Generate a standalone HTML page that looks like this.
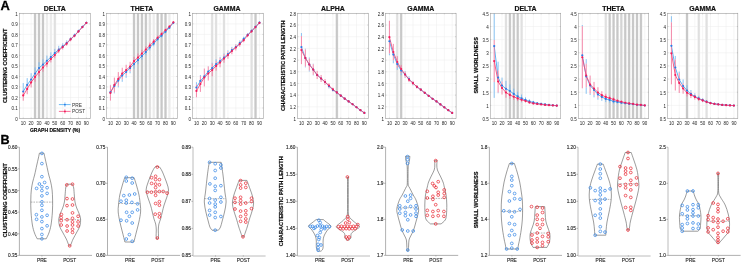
<!DOCTYPE html>
<html><head><meta charset="utf-8"><style>
html,body{margin:0;padding:0;background:#fff;width:741px;height:263px;overflow:hidden}
svg text{font-family:"Liberation Sans", sans-serif}
svg{will-change:transform}
</style></head><body>
<svg width="741" height="263" viewBox="0 0 741 263" style="display:block">
<rect width="741" height="263" fill="#fff"/>
<defs>
<linearGradient id="bard" x1="0" x2="1" y1="0" y2="0"><stop offset="0" stop-color="#ebebeb"/><stop offset="0.3" stop-color="#c8c8c8"/><stop offset="0.7" stop-color="#c8c8c8"/><stop offset="1" stop-color="#ebebeb"/></linearGradient>
<linearGradient id="barm" x1="0" x2="1" y1="0" y2="0"><stop offset="0" stop-color="#efefef"/><stop offset="0.3" stop-color="#d4d4d4"/><stop offset="0.7" stop-color="#d4d4d4"/><stop offset="1" stop-color="#efefef"/></linearGradient>
<linearGradient id="barl" x1="0" x2="1" y1="0" y2="0"><stop offset="0" stop-color="#f4f4f4"/><stop offset="0.3" stop-color="#e0e0e0"/><stop offset="0.7" stop-color="#e0e0e0"/><stop offset="1" stop-color="#f4f4f4"/></linearGradient>
<linearGradient id="barv" x1="0" x2="1" y1="0" y2="0"><stop offset="0" stop-color="#f8f8f8"/><stop offset="0.3" stop-color="#ececec"/><stop offset="0.7" stop-color="#ececec"/><stop offset="1" stop-color="#f8f8f8"/></linearGradient>
</defs>
<clipPath id="c0"><rect x="19.3" y="13.35" width="71" height="105.15"/></clipPath>
<path d="M23.24 13.35V118.5M31.13 13.35V118.5M39.02 13.35V118.5M46.91 13.35V118.5M54.8 13.35V118.5M62.69 13.35V118.5M70.58 13.35V118.5M78.47 13.35V118.5M86.36 13.35V118.5M19.3 118.5H90.3M19.3 107.98H90.3M19.3 97.47H90.3M19.3 86.95H90.3M19.3 76.44H90.3M19.3 65.92H90.3M19.3 55.41H90.3M19.3 44.89H90.3M19.3 34.38H90.3M19.3 23.86H90.3M19.3 13.35H90.3" stroke="#ececec" stroke-width="0.5" fill="none"/>
<rect x="33.63" y="13.35" width="2.9" height="105.15" fill="url(#bard)"/>
<rect x="37.57" y="13.35" width="2.9" height="105.15" fill="url(#bard)"/>
<rect x="41.52" y="13.35" width="2.9" height="105.15" fill="url(#bard)"/>
<rect x="45.46" y="13.35" width="2.9" height="105.15" fill="url(#barv)"/>
<rect x="49.41" y="13.35" width="2.9" height="105.15" fill="url(#barv)"/>
<rect x="53.35" y="13.35" width="2.9" height="105.15" fill="url(#barl)"/>
<path d="M23.24 118.5v-0.9M23.24 13.35v0.9M31.13 118.5v-0.9M31.13 13.35v0.9M39.02 118.5v-0.9M39.02 13.35v0.9M46.91 118.5v-0.9M46.91 13.35v0.9M54.8 118.5v-0.9M54.8 13.35v0.9M62.69 118.5v-0.9M62.69 13.35v0.9M70.58 118.5v-0.9M70.58 13.35v0.9M78.47 118.5v-0.9M78.47 13.35v0.9M86.36 118.5v-0.9M86.36 13.35v0.9M19.3 118.5h0.9M90.3 118.5h-0.9M19.3 107.98h0.9M90.3 107.98h-0.9M19.3 97.47h0.9M90.3 97.47h-0.9M19.3 86.95h0.9M90.3 86.95h-0.9M19.3 76.44h0.9M90.3 76.44h-0.9M19.3 65.92h0.9M90.3 65.92h-0.9M19.3 55.41h0.9M90.3 55.41h-0.9M19.3 44.89h0.9M90.3 44.89h-0.9M19.3 34.38h0.9M90.3 34.38h-0.9M19.3 23.86h0.9M90.3 23.86h-0.9M19.3 13.35h0.9M90.3 13.35h-0.9" stroke="#a2a2a2" stroke-width="0.5" fill="none"/>
<g clip-path="url(#c0)">
<path d="M23.24 83.06V90.21M27.19 78.12V83.7M31.13 73.18V77.39M35.08 67.4V72.23M39.02 62.24V67.61M42.97 59.3V63.3M46.91 55.52V59.83M50.86 52.36V55.73M54.8 48.89V51.94M58.74 45.84V47.94M62.69 49.42V49.63M62.69 43.32V44.79M66.63 40.37V41.53M70.58 37.01V37.53M74.52 33.54V34.17M78.47 32.7V32.8M78.47 29.65V30.17M82.41 25.65V26.07M86.36 23.76V23.86M86.36 21.76V22.08" stroke="#74b8f0" stroke-width="0.85" fill="none"/>
<polyline points="23.24,91.48 27.19,84.96 31.13,79.49 35.08,73.5 39.02,68.03 42.97,64.56 46.91,60.77 50.86,57.09 54.8,53.1 58.74,49.52 62.69,46.47 66.63,43 70.58,39.11 74.52,35.43 78.47,31.23 82.41,26.91 86.36,22.81" stroke="#48aaf0" stroke-width="0.9" fill="none"/>
<path d="M23.24 90.21V100.73M27.19 83.7V94.21M31.13 77.39V87.48M35.08 72.23V81.7M39.02 67.61V76.44M42.97 63.3V71.71M46.91 59.83V67.19M50.86 55.73V62.46M54.8 51.94V58.25M58.74 47.94V53.2M62.69 44.79V49.42M66.63 41.53V45.74M70.58 37.53V41.32M74.52 34.17V37.32M78.47 30.17V32.7M82.41 26.07V28.18M86.36 22.08V23.76" stroke="#f27399" stroke-width="0.85" fill="none"/>
<polyline points="23.24,95.47 27.19,88.95 31.13,82.43 35.08,76.97 39.02,72.02 42.97,67.5 46.91,63.51 50.86,59.09 54.8,55.09 58.74,50.57 62.69,47.1 66.63,43.63 70.58,39.43 74.52,35.75 78.47,31.44 82.41,27.12 86.36,22.92" stroke="#f54b7c" stroke-width="0.9" fill="none"/>
<circle cx="23.24" cy="91.48" r="1.1" fill="#2a7de8"/>
<circle cx="27.19" cy="84.96" r="1.1" fill="#2a7de8"/>
<circle cx="31.13" cy="79.49" r="1.1" fill="#2a7de8"/>
<circle cx="35.08" cy="73.5" r="1.1" fill="#2a7de8"/>
<circle cx="39.02" cy="68.03" r="1.1" fill="#2a7de8"/>
<circle cx="42.97" cy="64.56" r="1.1" fill="#2a7de8"/>
<circle cx="46.91" cy="60.77" r="1.1" fill="#2a7de8"/>
<circle cx="50.86" cy="57.09" r="1.1" fill="#2a7de8"/>
<circle cx="54.8" cy="53.1" r="1.1" fill="#2a7de8"/>
<circle cx="58.74" cy="49.52" r="1.1" fill="#2a7de8"/>
<circle cx="62.69" cy="46.47" r="1.1" fill="#2a7de8"/>
<circle cx="66.63" cy="43" r="1.1" fill="#2a7de8"/>
<circle cx="70.58" cy="39.11" r="1.1" fill="#2a7de8"/>
<circle cx="74.52" cy="35.43" r="1.1" fill="#2a7de8"/>
<circle cx="78.47" cy="31.23" r="1.1" fill="#2a7de8"/>
<circle cx="82.41" cy="26.91" r="1.1" fill="#2a7de8"/>
<circle cx="86.36" cy="22.81" r="1.1" fill="#2a7de8"/>
<circle cx="23.24" cy="95.47" r="1.1" fill="#f41c5a"/>
<circle cx="27.19" cy="88.95" r="1.1" fill="#f41c5a"/>
<circle cx="31.13" cy="82.43" r="1.1" fill="#f41c5a"/>
<circle cx="35.08" cy="76.97" r="1.1" fill="#f41c5a"/>
<circle cx="39.02" cy="72.02" r="1.1" fill="#f41c5a"/>
<circle cx="42.97" cy="67.5" r="1.1" fill="#f41c5a"/>
<circle cx="46.91" cy="63.51" r="1.1" fill="#f41c5a"/>
<circle cx="50.86" cy="59.09" r="1.1" fill="#f41c5a"/>
<circle cx="54.8" cy="55.09" r="1.1" fill="#f41c5a"/>
<circle cx="58.74" cy="50.57" r="1.1" fill="#f41c5a"/>
<circle cx="62.69" cy="47.1" r="1.1" fill="#f41c5a"/>
<circle cx="66.63" cy="43.63" r="1.1" fill="#f41c5a"/>
<circle cx="70.58" cy="39.43" r="1.1" fill="#f41c5a"/>
<circle cx="74.52" cy="35.75" r="1.1" fill="#f41c5a"/>
<circle cx="78.47" cy="31.44" r="1.1" fill="#f41c5a"/>
<circle cx="82.41" cy="27.12" r="1.1" fill="#f41c5a"/>
<circle cx="86.36" cy="22.92" r="1.1" fill="#f41c5a"/>
</g>
<rect x="19.3" y="13.35" width="71" height="105.15" fill="none" stroke="#a2a2a2" stroke-width="0.6"/>
<text x="17.7" y="120.85" text-anchor="end" font-size="4.5" fill="#222">0</text>
<text x="17.7" y="110.33" text-anchor="end" font-size="4.5" fill="#222">0.1</text>
<text x="17.7" y="99.82" text-anchor="end" font-size="4.5" fill="#222">0.2</text>
<text x="17.7" y="89.3" text-anchor="end" font-size="4.5" fill="#222">0.3</text>
<text x="17.7" y="78.79" text-anchor="end" font-size="4.5" fill="#222">0.4</text>
<text x="17.7" y="68.27" text-anchor="end" font-size="4.5" fill="#222">0.5</text>
<text x="17.7" y="57.76" text-anchor="end" font-size="4.5" fill="#222">0.6</text>
<text x="17.7" y="47.24" text-anchor="end" font-size="4.5" fill="#222">0.7</text>
<text x="17.7" y="36.73" text-anchor="end" font-size="4.5" fill="#222">0.8</text>
<text x="17.7" y="26.21" text-anchor="end" font-size="4.5" fill="#222">0.9</text>
<text x="17.7" y="15.7" text-anchor="end" font-size="4.5" fill="#222">1</text>
<text x="23.24" y="125.3" text-anchor="middle" font-size="4.5" fill="#222">10</text>
<text x="31.13" y="125.3" text-anchor="middle" font-size="4.5" fill="#222">20</text>
<text x="39.02" y="125.3" text-anchor="middle" font-size="4.5" fill="#222">30</text>
<text x="46.91" y="125.3" text-anchor="middle" font-size="4.5" fill="#222">40</text>
<text x="54.8" y="125.3" text-anchor="middle" font-size="4.5" fill="#222">50</text>
<text x="62.69" y="125.3" text-anchor="middle" font-size="4.5" fill="#222">60</text>
<text x="70.58" y="125.3" text-anchor="middle" font-size="4.5" fill="#222">70</text>
<text x="78.47" y="125.3" text-anchor="middle" font-size="4.5" fill="#222">80</text>
<text x="86.36" y="125.3" text-anchor="middle" font-size="4.5" fill="#222">90</text>
<text x="54.8" y="11.2" text-anchor="middle" font-size="6.95" font-weight="bold" fill="#111" stroke="#111" stroke-width="0.18">DELTA</text>
<clipPath id="c1"><rect x="106.5" y="13.35" width="70.8" height="105.15"/></clipPath>
<path d="M110.43 13.35V118.5M118.3 13.35V118.5M126.17 13.35V118.5M134.03 13.35V118.5M141.9 13.35V118.5M149.77 13.35V118.5M157.63 13.35V118.5M165.5 13.35V118.5M173.37 13.35V118.5M106.5 118.5H177.3M106.5 107.98H177.3M106.5 97.47H177.3M106.5 86.95H177.3M106.5 76.44H177.3M106.5 65.92H177.3M106.5 55.41H177.3M106.5 44.89H177.3M106.5 34.38H177.3M106.5 23.86H177.3M106.5 13.35H177.3" stroke="#ececec" stroke-width="0.5" fill="none"/>
<rect x="132.58" y="13.35" width="2.9" height="105.15" fill="url(#bard)"/>
<rect x="136.52" y="13.35" width="2.9" height="105.15" fill="url(#bard)"/>
<rect x="140.45" y="13.35" width="2.9" height="105.15" fill="url(#bard)"/>
<rect x="144.38" y="13.35" width="2.9" height="105.15" fill="url(#bard)"/>
<rect x="148.32" y="13.35" width="2.9" height="105.15" fill="url(#barl)"/>
<rect x="152.25" y="13.35" width="2.9" height="105.15" fill="url(#barv)"/>
<rect x="156.18" y="13.35" width="2.9" height="105.15" fill="url(#bard)"/>
<rect x="160.12" y="13.35" width="2.9" height="105.15" fill="url(#bard)"/>
<rect x="164.05" y="13.35" width="2.9" height="105.15" fill="url(#bard)"/>
<rect x="167.98" y="13.35" width="2.9" height="105.15" fill="url(#barv)"/>
<path d="M110.43 118.5v-0.9M110.43 13.35v0.9M118.3 118.5v-0.9M118.3 13.35v0.9M126.17 118.5v-0.9M126.17 13.35v0.9M134.03 118.5v-0.9M134.03 13.35v0.9M141.9 118.5v-0.9M141.9 13.35v0.9M149.77 118.5v-0.9M149.77 13.35v0.9M157.63 118.5v-0.9M157.63 13.35v0.9M165.5 118.5v-0.9M165.5 13.35v0.9M173.37 118.5v-0.9M173.37 13.35v0.9M106.5 118.5h0.9M177.3 118.5h-0.9M106.5 107.98h0.9M177.3 107.98h-0.9M106.5 97.47h0.9M177.3 97.47h-0.9M106.5 86.95h0.9M177.3 86.95h-0.9M106.5 76.44h0.9M177.3 76.44h-0.9M106.5 65.92h0.9M177.3 65.92h-0.9M106.5 55.41h0.9M177.3 55.41h-0.9M106.5 44.89h0.9M177.3 44.89h-0.9M106.5 34.38h0.9M177.3 34.38h-0.9M106.5 23.86h0.9M177.3 23.86h-0.9M106.5 13.35h0.9M177.3 13.35h-0.9" stroke="#a2a2a2" stroke-width="0.5" fill="none"/>
<g clip-path="url(#c1)">
<path d="M110.43 84.85V85.27M114.37 92.32V93.37M118.3 85.8V87.38M122.23 79.28V81.8M126.17 75.28V77.81M130.1 71.29V73.29M134.03 65.29V68.76M137.97 61.51V64.24M141.9 57.2V59.72M145.83 52.68V55.2M149.77 48.47V50.47M153.7 44.26V46.26M157.63 39.85V41.21M161.57 35.96V37.53M165.5 31.75V33.22M169.43 27.86V28.91M173.37 23.34V23.86" stroke="#74b8f0" stroke-width="0.85" fill="none"/>
<polyline points="110.43,92.21 114.37,86.01 118.3,80.54 122.23,75.49 126.17,72.02 130.1,68.03 134.03,64.03 137.97,60.04 141.9,56.04 145.83,52.05 149.77,47.52 153.7,43.63 157.63,39.11 161.57,35.64 165.5,31.65 169.43,27.65 173.37,22.81" stroke="#48aaf0" stroke-width="0.9" fill="none"/>
<path d="M110.43 85.27V100.62M114.37 77.6V92.32M118.3 72.13V85.8M122.23 67.71V79.28M126.17 64.77V75.28M130.1 61.82V71.29M134.03 56.88V65.29M137.97 53.52V61.51M141.9 49.84V57.2M145.83 46.37V52.68M149.77 42.58V48.47M153.7 39.01V44.26M157.63 35.64V39.85M161.57 32.17V35.96M165.5 28.6V31.75M169.43 25.34V27.86M173.37 21.24V23.34" stroke="#f27399" stroke-width="0.85" fill="none"/>
<polyline points="110.43,92.95 114.37,84.96 118.3,78.96 122.23,73.5 126.17,70.03 130.1,66.56 134.03,61.09 137.97,57.51 141.9,53.52 145.83,49.52 149.77,45.53 153.7,41.64 157.63,37.74 161.57,34.06 165.5,30.17 169.43,26.6 173.37,22.29" stroke="#f54b7c" stroke-width="0.9" fill="none"/>
<circle cx="110.43" cy="92.21" r="1.1" fill="#2a7de8"/>
<circle cx="114.37" cy="86.01" r="1.1" fill="#2a7de8"/>
<circle cx="118.3" cy="80.54" r="1.1" fill="#2a7de8"/>
<circle cx="122.23" cy="75.49" r="1.1" fill="#2a7de8"/>
<circle cx="126.17" cy="72.02" r="1.1" fill="#2a7de8"/>
<circle cx="130.1" cy="68.03" r="1.1" fill="#2a7de8"/>
<circle cx="134.03" cy="64.03" r="1.1" fill="#2a7de8"/>
<circle cx="137.97" cy="60.04" r="1.1" fill="#2a7de8"/>
<circle cx="141.9" cy="56.04" r="1.1" fill="#2a7de8"/>
<circle cx="145.83" cy="52.05" r="1.1" fill="#2a7de8"/>
<circle cx="149.77" cy="47.52" r="1.1" fill="#2a7de8"/>
<circle cx="153.7" cy="43.63" r="1.1" fill="#2a7de8"/>
<circle cx="157.63" cy="39.11" r="1.1" fill="#2a7de8"/>
<circle cx="161.57" cy="35.64" r="1.1" fill="#2a7de8"/>
<circle cx="165.5" cy="31.65" r="1.1" fill="#2a7de8"/>
<circle cx="169.43" cy="27.65" r="1.1" fill="#2a7de8"/>
<circle cx="173.37" cy="22.81" r="1.1" fill="#2a7de8"/>
<circle cx="110.43" cy="92.95" r="1.1" fill="#f41c5a"/>
<circle cx="114.37" cy="84.96" r="1.1" fill="#f41c5a"/>
<circle cx="118.3" cy="78.96" r="1.1" fill="#f41c5a"/>
<circle cx="122.23" cy="73.5" r="1.1" fill="#f41c5a"/>
<circle cx="126.17" cy="70.03" r="1.1" fill="#f41c5a"/>
<circle cx="130.1" cy="66.56" r="1.1" fill="#f41c5a"/>
<circle cx="134.03" cy="61.09" r="1.1" fill="#f41c5a"/>
<circle cx="137.97" cy="57.51" r="1.1" fill="#f41c5a"/>
<circle cx="141.9" cy="53.52" r="1.1" fill="#f41c5a"/>
<circle cx="145.83" cy="49.52" r="1.1" fill="#f41c5a"/>
<circle cx="149.77" cy="45.53" r="1.1" fill="#f41c5a"/>
<circle cx="153.7" cy="41.64" r="1.1" fill="#f41c5a"/>
<circle cx="157.63" cy="37.74" r="1.1" fill="#f41c5a"/>
<circle cx="161.57" cy="34.06" r="1.1" fill="#f41c5a"/>
<circle cx="165.5" cy="30.17" r="1.1" fill="#f41c5a"/>
<circle cx="169.43" cy="26.6" r="1.1" fill="#f41c5a"/>
<circle cx="173.37" cy="22.29" r="1.1" fill="#f41c5a"/>
</g>
<rect x="106.5" y="13.35" width="70.8" height="105.15" fill="none" stroke="#a2a2a2" stroke-width="0.6"/>
<text x="104.9" y="120.85" text-anchor="end" font-size="4.5" fill="#222">0</text>
<text x="104.9" y="110.33" text-anchor="end" font-size="4.5" fill="#222">0.1</text>
<text x="104.9" y="99.82" text-anchor="end" font-size="4.5" fill="#222">0.2</text>
<text x="104.9" y="89.3" text-anchor="end" font-size="4.5" fill="#222">0.3</text>
<text x="104.9" y="78.79" text-anchor="end" font-size="4.5" fill="#222">0.4</text>
<text x="104.9" y="68.27" text-anchor="end" font-size="4.5" fill="#222">0.5</text>
<text x="104.9" y="57.76" text-anchor="end" font-size="4.5" fill="#222">0.6</text>
<text x="104.9" y="47.24" text-anchor="end" font-size="4.5" fill="#222">0.7</text>
<text x="104.9" y="36.73" text-anchor="end" font-size="4.5" fill="#222">0.8</text>
<text x="104.9" y="26.21" text-anchor="end" font-size="4.5" fill="#222">0.9</text>
<text x="104.9" y="15.7" text-anchor="end" font-size="4.5" fill="#222">1</text>
<text x="110.43" y="125.3" text-anchor="middle" font-size="4.5" fill="#222">10</text>
<text x="118.3" y="125.3" text-anchor="middle" font-size="4.5" fill="#222">20</text>
<text x="126.17" y="125.3" text-anchor="middle" font-size="4.5" fill="#222">30</text>
<text x="134.03" y="125.3" text-anchor="middle" font-size="4.5" fill="#222">40</text>
<text x="141.9" y="125.3" text-anchor="middle" font-size="4.5" fill="#222">50</text>
<text x="149.77" y="125.3" text-anchor="middle" font-size="4.5" fill="#222">60</text>
<text x="157.63" y="125.3" text-anchor="middle" font-size="4.5" fill="#222">70</text>
<text x="165.5" y="125.3" text-anchor="middle" font-size="4.5" fill="#222">80</text>
<text x="173.37" y="125.3" text-anchor="middle" font-size="4.5" fill="#222">90</text>
<text x="141.9" y="11.2" text-anchor="middle" font-size="6.95" font-weight="bold" fill="#111" stroke="#111" stroke-width="0.18">THETA</text>
<clipPath id="c2"><rect x="192.5" y="13.35" width="70.9" height="105.15"/></clipPath>
<path d="M196.44 13.35V118.5M204.32 13.35V118.5M212.19 13.35V118.5M220.07 13.35V118.5M227.95 13.35V118.5M235.83 13.35V118.5M243.71 13.35V118.5M251.58 13.35V118.5M259.46 13.35V118.5M192.5 118.5H263.4M192.5 107.98H263.4M192.5 97.47H263.4M192.5 86.95H263.4M192.5 76.44H263.4M192.5 65.92H263.4M192.5 55.41H263.4M192.5 44.89H263.4M192.5 34.38H263.4M192.5 23.86H263.4M192.5 13.35H263.4" stroke="#ececec" stroke-width="0.5" fill="none"/>
<rect x="210.74" y="13.35" width="2.9" height="105.15" fill="url(#barl)"/>
<rect x="214.68" y="13.35" width="2.9" height="105.15" fill="url(#barl)"/>
<rect x="222.56" y="13.35" width="2.9" height="105.15" fill="url(#barl)"/>
<rect x="250.13" y="13.35" width="2.9" height="105.15" fill="url(#barl)"/>
<rect x="254.07" y="13.35" width="2.9" height="105.15" fill="url(#bard)"/>
<path d="M196.44 118.5v-0.9M196.44 13.35v0.9M204.32 118.5v-0.9M204.32 13.35v0.9M212.19 118.5v-0.9M212.19 13.35v0.9M220.07 118.5v-0.9M220.07 13.35v0.9M227.95 118.5v-0.9M227.95 13.35v0.9M235.83 118.5v-0.9M235.83 13.35v0.9M243.71 118.5v-0.9M243.71 13.35v0.9M251.58 118.5v-0.9M251.58 13.35v0.9M259.46 118.5v-0.9M259.46 13.35v0.9M192.5 118.5h0.9M263.4 118.5h-0.9M192.5 107.98h0.9M263.4 107.98h-0.9M192.5 97.47h0.9M263.4 97.47h-0.9M192.5 86.95h0.9M263.4 86.95h-0.9M192.5 76.44h0.9M263.4 76.44h-0.9M192.5 65.92h0.9M263.4 65.92h-0.9M192.5 55.41h0.9M263.4 55.41h-0.9M192.5 44.89h0.9M263.4 44.89h-0.9M192.5 34.38h0.9M263.4 34.38h-0.9M192.5 23.86h0.9M263.4 23.86h-0.9M192.5 13.35h0.9M263.4 13.35h-0.9" stroke="#a2a2a2" stroke-width="0.5" fill="none"/>
<g clip-path="url(#c2)">
<path d="M196.44 82.22V84.64M200.38 74.97V76.12M208.26 66.24V66.45M212.19 62.77V63.72M216.13 59.3V61.19M220.07 56.88V57.83M224.01 53.52V54.36M227.95 50.36V51.41M231.89 46.89V47.94M235.83 44.05V44.58M239.77 40.48V41.43M243.71 36.69V38.06M247.64 33.01V33.43M251.58 29.33V29.75M255.52 25.55V25.86M259.46 21.55V21.87" stroke="#74b8f0" stroke-width="0.85" fill="none"/>
<polyline points="196.44,87.48 200.38,80.96 204.32,76.44 208.26,71.5 212.19,68.03 216.13,64.03 220.07,61.09 224.01,57.51 227.95,54.04 231.89,50.05 235.83,47 239.77,43.11 243.71,38.8 247.64,34.91 251.58,30.91 255.52,26.81 259.46,22.6" stroke="#48aaf0" stroke-width="0.9" fill="none"/>
<path d="M196.44 84.64V97.26M200.38 76.12V91.9M204.32 68.55V86.43M208.26 66.45V80.54M212.19 63.72V76.33M216.13 61.19V70.66M220.07 57.83V67.29M224.01 54.36V62.77M227.95 51.41V58.77M231.89 47.94V54.25M235.83 44.58V50.47M239.77 41.43V46.68M243.71 38.06V42.27M247.64 33.43V37.22M251.58 29.75V32.91M255.52 25.86V28.39M259.46 21.87V23.97" stroke="#f27399" stroke-width="0.85" fill="none"/>
<polyline points="196.44,90.95 200.38,84.01 204.32,77.49 208.26,73.5 212.19,70.03 216.13,65.92 220.07,62.56 224.01,58.56 227.95,55.09 231.89,51.1 235.83,47.52 239.77,44.05 243.71,40.16 247.64,35.33 251.58,31.33 255.52,27.12 259.46,22.92" stroke="#f54b7c" stroke-width="0.9" fill="none"/>
<circle cx="196.44" cy="87.48" r="1.1" fill="#2a7de8"/>
<circle cx="200.38" cy="80.96" r="1.1" fill="#2a7de8"/>
<circle cx="204.32" cy="76.44" r="1.1" fill="#2a7de8"/>
<circle cx="208.26" cy="71.5" r="1.1" fill="#2a7de8"/>
<circle cx="212.19" cy="68.03" r="1.1" fill="#2a7de8"/>
<circle cx="216.13" cy="64.03" r="1.1" fill="#2a7de8"/>
<circle cx="220.07" cy="61.09" r="1.1" fill="#2a7de8"/>
<circle cx="224.01" cy="57.51" r="1.1" fill="#2a7de8"/>
<circle cx="227.95" cy="54.04" r="1.1" fill="#2a7de8"/>
<circle cx="231.89" cy="50.05" r="1.1" fill="#2a7de8"/>
<circle cx="235.83" cy="47" r="1.1" fill="#2a7de8"/>
<circle cx="239.77" cy="43.11" r="1.1" fill="#2a7de8"/>
<circle cx="243.71" cy="38.8" r="1.1" fill="#2a7de8"/>
<circle cx="247.64" cy="34.91" r="1.1" fill="#2a7de8"/>
<circle cx="251.58" cy="30.91" r="1.1" fill="#2a7de8"/>
<circle cx="255.52" cy="26.81" r="1.1" fill="#2a7de8"/>
<circle cx="259.46" cy="22.6" r="1.1" fill="#2a7de8"/>
<circle cx="196.44" cy="90.95" r="1.1" fill="#f41c5a"/>
<circle cx="200.38" cy="84.01" r="1.1" fill="#f41c5a"/>
<circle cx="204.32" cy="77.49" r="1.1" fill="#f41c5a"/>
<circle cx="208.26" cy="73.5" r="1.1" fill="#f41c5a"/>
<circle cx="212.19" cy="70.03" r="1.1" fill="#f41c5a"/>
<circle cx="216.13" cy="65.92" r="1.1" fill="#f41c5a"/>
<circle cx="220.07" cy="62.56" r="1.1" fill="#f41c5a"/>
<circle cx="224.01" cy="58.56" r="1.1" fill="#f41c5a"/>
<circle cx="227.95" cy="55.09" r="1.1" fill="#f41c5a"/>
<circle cx="231.89" cy="51.1" r="1.1" fill="#f41c5a"/>
<circle cx="235.83" cy="47.52" r="1.1" fill="#f41c5a"/>
<circle cx="239.77" cy="44.05" r="1.1" fill="#f41c5a"/>
<circle cx="243.71" cy="40.16" r="1.1" fill="#f41c5a"/>
<circle cx="247.64" cy="35.33" r="1.1" fill="#f41c5a"/>
<circle cx="251.58" cy="31.33" r="1.1" fill="#f41c5a"/>
<circle cx="255.52" cy="27.12" r="1.1" fill="#f41c5a"/>
<circle cx="259.46" cy="22.92" r="1.1" fill="#f41c5a"/>
</g>
<rect x="192.5" y="13.35" width="70.9" height="105.15" fill="none" stroke="#a2a2a2" stroke-width="0.6"/>
<text x="190.9" y="120.85" text-anchor="end" font-size="4.5" fill="#222">0</text>
<text x="190.9" y="110.33" text-anchor="end" font-size="4.5" fill="#222">0.1</text>
<text x="190.9" y="99.82" text-anchor="end" font-size="4.5" fill="#222">0.2</text>
<text x="190.9" y="89.3" text-anchor="end" font-size="4.5" fill="#222">0.3</text>
<text x="190.9" y="78.79" text-anchor="end" font-size="4.5" fill="#222">0.4</text>
<text x="190.9" y="68.27" text-anchor="end" font-size="4.5" fill="#222">0.5</text>
<text x="190.9" y="57.76" text-anchor="end" font-size="4.5" fill="#222">0.6</text>
<text x="190.9" y="47.24" text-anchor="end" font-size="4.5" fill="#222">0.7</text>
<text x="190.9" y="36.73" text-anchor="end" font-size="4.5" fill="#222">0.8</text>
<text x="190.9" y="26.21" text-anchor="end" font-size="4.5" fill="#222">0.9</text>
<text x="190.9" y="15.7" text-anchor="end" font-size="4.5" fill="#222">1</text>
<text x="196.44" y="125.3" text-anchor="middle" font-size="4.5" fill="#222">10</text>
<text x="204.32" y="125.3" text-anchor="middle" font-size="4.5" fill="#222">20</text>
<text x="212.19" y="125.3" text-anchor="middle" font-size="4.5" fill="#222">30</text>
<text x="220.07" y="125.3" text-anchor="middle" font-size="4.5" fill="#222">40</text>
<text x="227.95" y="125.3" text-anchor="middle" font-size="4.5" fill="#222">50</text>
<text x="235.83" y="125.3" text-anchor="middle" font-size="4.5" fill="#222">60</text>
<text x="243.71" y="125.3" text-anchor="middle" font-size="4.5" fill="#222">70</text>
<text x="251.58" y="125.3" text-anchor="middle" font-size="4.5" fill="#222">80</text>
<text x="259.46" y="125.3" text-anchor="middle" font-size="4.5" fill="#222">90</text>
<text x="226.95" y="11.2" text-anchor="middle" font-size="6.95" font-weight="bold" fill="#111" stroke="#111" stroke-width="0.18">GAMMA</text>
<clipPath id="c3"><rect x="297.5" y="13.35" width="70.8" height="105.15"/></clipPath>
<path d="M301.43 13.35V118.5M309.3 13.35V118.5M317.17 13.35V118.5M325.03 13.35V118.5M332.9 13.35V118.5M340.77 13.35V118.5M348.63 13.35V118.5M356.5 13.35V118.5M364.37 13.35V118.5M297.5 118.5H368.3M297.5 106.82H368.3M297.5 95.13H368.3M297.5 83.45H368.3M297.5 71.77H368.3M297.5 60.08H368.3M297.5 48.4H368.3M297.5 36.72H368.3M297.5 25.03H368.3M297.5 13.35H368.3" stroke="#ececec" stroke-width="0.5" fill="none"/>
<rect x="335.38" y="13.35" width="2.9" height="105.15" fill="url(#bard)"/>
<path d="M301.43 118.5v-0.9M301.43 13.35v0.9M309.3 118.5v-0.9M309.3 13.35v0.9M317.17 118.5v-0.9M317.17 13.35v0.9M325.03 118.5v-0.9M325.03 13.35v0.9M332.9 118.5v-0.9M332.9 13.35v0.9M340.77 118.5v-0.9M340.77 13.35v0.9M348.63 118.5v-0.9M348.63 13.35v0.9M356.5 118.5v-0.9M356.5 13.35v0.9M364.37 118.5v-0.9M364.37 13.35v0.9M297.5 118.5h0.9M368.3 118.5h-0.9M297.5 106.82h0.9M368.3 106.82h-0.9M297.5 95.13h0.9M368.3 95.13h-0.9M297.5 83.45h0.9M368.3 83.45h-0.9M297.5 71.77h0.9M368.3 71.77h-0.9M297.5 60.08h0.9M368.3 60.08h-0.9M297.5 48.4h0.9M368.3 48.4h-0.9M297.5 36.72h0.9M368.3 36.72h-0.9M297.5 25.03h0.9M368.3 25.03h-0.9M297.5 13.35h0.9M368.3 13.35h-0.9" stroke="#a2a2a2" stroke-width="0.5" fill="none"/>
<g clip-path="url(#c3)">
<path d="M301.43 33.04V36.07M305.37 66.51V67.39M305.37 48.69V49.57M309.3 70.36V71.53M309.3 57.51V58.68M313.23 74.8V75.39M313.23 63.71V64.29M328.97 87.83V88.53M332.9 91.22V91.63" stroke="#74b8f0" stroke-width="0.85" fill="none"/>
<polyline points="301.43,47.06 305.37,58.04 309.3,64.52 313.23,69.55 317.17,74.98 321.1,78.48 325.03,81.99 328.97,86.2 332.9,89.88 336.83,92.45 340.77,95.66 344.7,98.64 348.63,101.44 352.57,104.25 356.5,107.23 360.43,110.15 364.37,112.89" stroke="#48aaf0" stroke-width="0.9" fill="none"/>
<path d="M301.43 36.07V64.11M305.37 49.57V66.51M309.3 58.68V70.36M313.23 64.29V74.8M317.17 70.89V79.07M321.1 74.98V81.99M325.03 79.07V84.91M328.97 83.16V87.83M332.9 87.71V91.22M336.83 90.99V93.91M340.77 94.49V96.83M344.7 97.76V99.51M348.63 100.74V102.14M352.57 103.66V104.83M356.5 106.76V107.69M360.43 109.8V110.5M364.37 112.6V113.18" stroke="#f27399" stroke-width="0.85" fill="none"/>
<polyline points="301.43,50.09 305.37,58.04 309.3,64.52 313.23,69.55 317.17,74.98 321.1,78.48 325.03,81.99 328.97,85.49 332.9,89.47 336.83,92.45 340.77,95.66 344.7,98.64 348.63,101.44 352.57,104.25 356.5,107.23 360.43,110.15 364.37,112.89" stroke="#f54b7c" stroke-width="0.9" fill="none"/>
<circle cx="301.43" cy="47.06" r="1.1" fill="#2a7de8"/>
<circle cx="305.37" cy="58.04" r="1.1" fill="#2a7de8"/>
<circle cx="309.3" cy="64.52" r="1.1" fill="#2a7de8"/>
<circle cx="313.23" cy="69.55" r="1.1" fill="#2a7de8"/>
<circle cx="317.17" cy="74.98" r="1.1" fill="#2a7de8"/>
<circle cx="321.1" cy="78.48" r="1.1" fill="#2a7de8"/>
<circle cx="325.03" cy="81.99" r="1.1" fill="#2a7de8"/>
<circle cx="328.97" cy="86.2" r="1.1" fill="#2a7de8"/>
<circle cx="332.9" cy="89.88" r="1.1" fill="#2a7de8"/>
<circle cx="336.83" cy="92.45" r="1.1" fill="#2a7de8"/>
<circle cx="340.77" cy="95.66" r="1.1" fill="#2a7de8"/>
<circle cx="344.7" cy="98.64" r="1.1" fill="#2a7de8"/>
<circle cx="348.63" cy="101.44" r="1.1" fill="#2a7de8"/>
<circle cx="352.57" cy="104.25" r="1.1" fill="#2a7de8"/>
<circle cx="356.5" cy="107.23" r="1.1" fill="#2a7de8"/>
<circle cx="360.43" cy="110.15" r="1.1" fill="#2a7de8"/>
<circle cx="364.37" cy="112.89" r="1.1" fill="#2a7de8"/>
<circle cx="301.43" cy="50.09" r="1.1" fill="#f41c5a"/>
<circle cx="305.37" cy="58.04" r="1.1" fill="#f41c5a"/>
<circle cx="309.3" cy="64.52" r="1.1" fill="#f41c5a"/>
<circle cx="313.23" cy="69.55" r="1.1" fill="#f41c5a"/>
<circle cx="317.17" cy="74.98" r="1.1" fill="#f41c5a"/>
<circle cx="321.1" cy="78.48" r="1.1" fill="#f41c5a"/>
<circle cx="325.03" cy="81.99" r="1.1" fill="#f41c5a"/>
<circle cx="328.97" cy="85.49" r="1.1" fill="#f41c5a"/>
<circle cx="332.9" cy="89.47" r="1.1" fill="#f41c5a"/>
<circle cx="336.83" cy="92.45" r="1.1" fill="#f41c5a"/>
<circle cx="340.77" cy="95.66" r="1.1" fill="#f41c5a"/>
<circle cx="344.7" cy="98.64" r="1.1" fill="#f41c5a"/>
<circle cx="348.63" cy="101.44" r="1.1" fill="#f41c5a"/>
<circle cx="352.57" cy="104.25" r="1.1" fill="#f41c5a"/>
<circle cx="356.5" cy="107.23" r="1.1" fill="#f41c5a"/>
<circle cx="360.43" cy="110.15" r="1.1" fill="#f41c5a"/>
<circle cx="364.37" cy="112.89" r="1.1" fill="#f41c5a"/>
</g>
<rect x="297.5" y="13.35" width="70.8" height="105.15" fill="none" stroke="#a2a2a2" stroke-width="0.6"/>
<text x="295.9" y="120.85" text-anchor="end" font-size="4.5" fill="#222">1</text>
<text x="295.9" y="109.17" text-anchor="end" font-size="4.5" fill="#222">1.2</text>
<text x="295.9" y="97.48" text-anchor="end" font-size="4.5" fill="#222">1.4</text>
<text x="295.9" y="85.8" text-anchor="end" font-size="4.5" fill="#222">1.6</text>
<text x="295.9" y="74.12" text-anchor="end" font-size="4.5" fill="#222">1.8</text>
<text x="295.9" y="62.43" text-anchor="end" font-size="4.5" fill="#222">2</text>
<text x="295.9" y="50.75" text-anchor="end" font-size="4.5" fill="#222">2.2</text>
<text x="295.9" y="39.07" text-anchor="end" font-size="4.5" fill="#222">2.4</text>
<text x="295.9" y="27.38" text-anchor="end" font-size="4.5" fill="#222">2.6</text>
<text x="295.9" y="15.7" text-anchor="end" font-size="4.5" fill="#222">2.8</text>
<text x="301.43" y="125.3" text-anchor="middle" font-size="4.5" fill="#222">10</text>
<text x="309.3" y="125.3" text-anchor="middle" font-size="4.5" fill="#222">20</text>
<text x="317.17" y="125.3" text-anchor="middle" font-size="4.5" fill="#222">30</text>
<text x="325.03" y="125.3" text-anchor="middle" font-size="4.5" fill="#222">40</text>
<text x="332.9" y="125.3" text-anchor="middle" font-size="4.5" fill="#222">50</text>
<text x="340.77" y="125.3" text-anchor="middle" font-size="4.5" fill="#222">60</text>
<text x="348.63" y="125.3" text-anchor="middle" font-size="4.5" fill="#222">70</text>
<text x="356.5" y="125.3" text-anchor="middle" font-size="4.5" fill="#222">80</text>
<text x="364.37" y="125.3" text-anchor="middle" font-size="4.5" fill="#222">90</text>
<text x="332.9" y="11.2" text-anchor="middle" font-size="6.95" font-weight="bold" fill="#111" stroke="#111" stroke-width="0.18">ALPHA</text>
<clipPath id="c4"><rect x="385.5" y="13.35" width="70.6" height="105.15"/></clipPath>
<path d="M389.42 13.35V118.5M397.27 13.35V118.5M405.11 13.35V118.5M412.96 13.35V118.5M420.8 13.35V118.5M428.64 13.35V118.5M436.49 13.35V118.5M444.33 13.35V118.5M452.18 13.35V118.5M385.5 118.5H456.1M385.5 106.82H456.1M385.5 95.13H456.1M385.5 83.45H456.1M385.5 71.77H456.1M385.5 60.08H456.1M385.5 48.4H456.1M385.5 36.72H456.1M385.5 25.03H456.1M385.5 13.35H456.1" stroke="#ececec" stroke-width="0.5" fill="none"/>
<rect x="395.82" y="13.35" width="2.9" height="105.15" fill="url(#barl)"/>
<rect x="399.74" y="13.35" width="2.9" height="105.15" fill="url(#bard)"/>
<path d="M389.42 118.5v-0.9M389.42 13.35v0.9M397.27 118.5v-0.9M397.27 13.35v0.9M405.11 118.5v-0.9M405.11 13.35v0.9M412.96 118.5v-0.9M412.96 13.35v0.9M420.8 118.5v-0.9M420.8 13.35v0.9M428.64 118.5v-0.9M428.64 13.35v0.9M436.49 118.5v-0.9M436.49 13.35v0.9M444.33 118.5v-0.9M444.33 13.35v0.9M452.18 118.5v-0.9M452.18 13.35v0.9M385.5 118.5h0.9M456.1 118.5h-0.9M385.5 106.82h0.9M456.1 106.82h-0.9M385.5 95.13h0.9M456.1 95.13h-0.9M385.5 83.45h0.9M456.1 83.45h-0.9M385.5 71.77h0.9M456.1 71.77h-0.9M385.5 60.08h0.9M456.1 60.08h-0.9M385.5 48.4h0.9M456.1 48.4h-0.9M385.5 36.72h0.9M456.1 36.72h-0.9M385.5 25.03h0.9M456.1 25.03h-0.9M385.5 13.35h0.9M456.1 13.35h-0.9" stroke="#a2a2a2" stroke-width="0.5" fill="none"/>
<g clip-path="url(#c4)">
<path d="M389.42 53.48V55.29M393.34 60.26V63.3M397.27 67.85V69.9M401.19 73.11V75.21M405.11 77.43V78.02M405.11 71.01V71.59M409.03 81.99V82.11M409.03 76.26V77.32M412.96 85.2V85.49M412.96 80.82V81.11" stroke="#74b8f0" stroke-width="0.85" fill="none"/>
<polyline points="389.42,41.27 393.34,54.53 397.27,64.06 401.19,70.54 405.11,74.51 409.03,79.19 412.96,83.16 416.88,86.78 420.8,89.7 424.72,92.8 428.64,95.78 432.57,98.76 436.49,101.44 440.41,104.42 444.33,107.34 448.26,110.15 452.18,112.89" stroke="#48aaf0" stroke-width="0.9" fill="none"/>
<path d="M389.42 20.77V53.48M393.34 43.9V60.26M397.27 56.17V67.85M401.19 64.93V73.11M405.11 71.59V77.43M409.03 77.32V81.99M412.96 81.11V85.2M416.88 85.03V88.53M420.8 88.24V91.16M424.72 91.63V93.97M428.64 94.9V96.65M432.57 98.05V99.46M436.49 100.86V102.03M440.41 103.95V104.89M444.33 106.99V107.69M448.26 109.85V110.44M452.18 112.66V113.13" stroke="#f27399" stroke-width="0.85" fill="none"/>
<polyline points="389.42,37.13 393.34,52.08 397.27,62.01 401.19,69.02 405.11,74.51 409.03,79.65 412.96,83.16 416.88,86.78 420.8,89.7 424.72,92.8 428.64,95.78 432.57,98.76 436.49,101.44 440.41,104.42 444.33,107.34 448.26,110.15 452.18,112.89" stroke="#f54b7c" stroke-width="0.9" fill="none"/>
<circle cx="389.42" cy="41.27" r="1.1" fill="#2a7de8"/>
<circle cx="393.34" cy="54.53" r="1.1" fill="#2a7de8"/>
<circle cx="397.27" cy="64.06" r="1.1" fill="#2a7de8"/>
<circle cx="401.19" cy="70.54" r="1.1" fill="#2a7de8"/>
<circle cx="405.11" cy="74.51" r="1.1" fill="#2a7de8"/>
<circle cx="409.03" cy="79.19" r="1.1" fill="#2a7de8"/>
<circle cx="412.96" cy="83.16" r="1.1" fill="#2a7de8"/>
<circle cx="416.88" cy="86.78" r="1.1" fill="#2a7de8"/>
<circle cx="420.8" cy="89.7" r="1.1" fill="#2a7de8"/>
<circle cx="424.72" cy="92.8" r="1.1" fill="#2a7de8"/>
<circle cx="428.64" cy="95.78" r="1.1" fill="#2a7de8"/>
<circle cx="432.57" cy="98.76" r="1.1" fill="#2a7de8"/>
<circle cx="436.49" cy="101.44" r="1.1" fill="#2a7de8"/>
<circle cx="440.41" cy="104.42" r="1.1" fill="#2a7de8"/>
<circle cx="444.33" cy="107.34" r="1.1" fill="#2a7de8"/>
<circle cx="448.26" cy="110.15" r="1.1" fill="#2a7de8"/>
<circle cx="452.18" cy="112.89" r="1.1" fill="#2a7de8"/>
<circle cx="389.42" cy="37.13" r="1.1" fill="#f41c5a"/>
<circle cx="393.34" cy="52.08" r="1.1" fill="#f41c5a"/>
<circle cx="397.27" cy="62.01" r="1.1" fill="#f41c5a"/>
<circle cx="401.19" cy="69.02" r="1.1" fill="#f41c5a"/>
<circle cx="405.11" cy="74.51" r="1.1" fill="#f41c5a"/>
<circle cx="409.03" cy="79.65" r="1.1" fill="#f41c5a"/>
<circle cx="412.96" cy="83.16" r="1.1" fill="#f41c5a"/>
<circle cx="416.88" cy="86.78" r="1.1" fill="#f41c5a"/>
<circle cx="420.8" cy="89.7" r="1.1" fill="#f41c5a"/>
<circle cx="424.72" cy="92.8" r="1.1" fill="#f41c5a"/>
<circle cx="428.64" cy="95.78" r="1.1" fill="#f41c5a"/>
<circle cx="432.57" cy="98.76" r="1.1" fill="#f41c5a"/>
<circle cx="436.49" cy="101.44" r="1.1" fill="#f41c5a"/>
<circle cx="440.41" cy="104.42" r="1.1" fill="#f41c5a"/>
<circle cx="444.33" cy="107.34" r="1.1" fill="#f41c5a"/>
<circle cx="448.26" cy="110.15" r="1.1" fill="#f41c5a"/>
<circle cx="452.18" cy="112.89" r="1.1" fill="#f41c5a"/>
</g>
<rect x="385.5" y="13.35" width="70.6" height="105.15" fill="none" stroke="#a2a2a2" stroke-width="0.6"/>
<text x="383.9" y="120.85" text-anchor="end" font-size="4.5" fill="#222">1</text>
<text x="383.9" y="109.17" text-anchor="end" font-size="4.5" fill="#222">1.2</text>
<text x="383.9" y="97.48" text-anchor="end" font-size="4.5" fill="#222">1.4</text>
<text x="383.9" y="85.8" text-anchor="end" font-size="4.5" fill="#222">1.6</text>
<text x="383.9" y="74.12" text-anchor="end" font-size="4.5" fill="#222">1.8</text>
<text x="383.9" y="62.43" text-anchor="end" font-size="4.5" fill="#222">2</text>
<text x="383.9" y="50.75" text-anchor="end" font-size="4.5" fill="#222">2.2</text>
<text x="383.9" y="39.07" text-anchor="end" font-size="4.5" fill="#222">2.4</text>
<text x="383.9" y="27.38" text-anchor="end" font-size="4.5" fill="#222">2.6</text>
<text x="383.9" y="15.7" text-anchor="end" font-size="4.5" fill="#222">2.8</text>
<text x="389.42" y="125.3" text-anchor="middle" font-size="4.5" fill="#222">10</text>
<text x="397.27" y="125.3" text-anchor="middle" font-size="4.5" fill="#222">20</text>
<text x="405.11" y="125.3" text-anchor="middle" font-size="4.5" fill="#222">30</text>
<text x="412.96" y="125.3" text-anchor="middle" font-size="4.5" fill="#222">40</text>
<text x="420.8" y="125.3" text-anchor="middle" font-size="4.5" fill="#222">50</text>
<text x="428.64" y="125.3" text-anchor="middle" font-size="4.5" fill="#222">60</text>
<text x="436.49" y="125.3" text-anchor="middle" font-size="4.5" fill="#222">70</text>
<text x="444.33" y="125.3" text-anchor="middle" font-size="4.5" fill="#222">80</text>
<text x="452.18" y="125.3" text-anchor="middle" font-size="4.5" fill="#222">90</text>
<text x="420.8" y="11.2" text-anchor="middle" font-size="6.95" font-weight="bold" fill="#111" stroke="#111" stroke-width="0.18">GAMMA</text>
<clipPath id="c5"><rect x="490.3" y="13.35" width="70.4" height="105.15"/></clipPath>
<path d="M494.21 13.35V118.5M502.03 13.35V118.5M509.86 13.35V118.5M517.68 13.35V118.5M525.5 13.35V118.5M533.32 13.35V118.5M541.14 13.35V118.5M548.97 13.35V118.5M556.79 13.35V118.5M490.3 118.5H560.7M490.3 105.36H560.7M490.3 92.21H560.7M490.3 79.07H560.7M490.3 65.92H560.7M490.3 52.78H560.7M490.3 39.64H560.7M490.3 26.49H560.7M490.3 13.35H560.7" stroke="#ececec" stroke-width="0.5" fill="none"/>
<rect x="504.49" y="13.35" width="2.9" height="105.15" fill="url(#barl)"/>
<rect x="508.41" y="13.35" width="2.9" height="105.15" fill="url(#bard)"/>
<rect x="512.32" y="13.35" width="2.9" height="105.15" fill="url(#bard)"/>
<rect x="516.23" y="13.35" width="2.9" height="105.15" fill="url(#bard)"/>
<rect x="520.14" y="13.35" width="2.9" height="105.15" fill="url(#barl)"/>
<path d="M494.21 118.5v-0.9M494.21 13.35v0.9M502.03 118.5v-0.9M502.03 13.35v0.9M509.86 118.5v-0.9M509.86 13.35v0.9M517.68 118.5v-0.9M517.68 13.35v0.9M525.5 118.5v-0.9M525.5 13.35v0.9M533.32 118.5v-0.9M533.32 13.35v0.9M541.14 118.5v-0.9M541.14 13.35v0.9M548.97 118.5v-0.9M548.97 13.35v0.9M556.79 118.5v-0.9M556.79 13.35v0.9M490.3 118.5h0.9M560.7 118.5h-0.9M490.3 105.36h0.9M560.7 105.36h-0.9M490.3 92.21h0.9M560.7 92.21h-0.9M490.3 79.07h0.9M560.7 79.07h-0.9M490.3 65.92h0.9M560.7 65.92h-0.9M490.3 52.78h0.9M560.7 52.78h-0.9M490.3 39.64h0.9M560.7 39.64h-0.9M490.3 26.49h0.9M560.7 26.49h-0.9M490.3 13.35h0.9M560.7 13.35h-0.9" stroke="#a2a2a2" stroke-width="0.5" fill="none"/>
<g clip-path="url(#c5)">
<path d="M494.21 82.07V97.86M494.21 -5.71V40.01M498.12 92.53V93.26M498.12 61.72V70.45M502.03 77.6V81.41M505.94 80.91V87.22M509.86 84.41V91M513.77 88.69V93.61M517.68 101.07V101.18M517.68 91.71V95.81M521.59 101.86V102.39M521.59 94.5V97.65M525.5 102.52V102.57M525.5 97.31V99.36M529.41 99.34V101.12M533.32 100.86V102.39M537.23 104.73V104.75M537.23 102.12V103.15M541.14 102.89V103.78M545.06 103.65V104.41M548.97 105.54V105.59M548.97 104.28V104.75M552.88 105.75V105.88M552.88 104.83V105.12M556.79 105.99V106.01M556.79 105.22V105.46" stroke="#74b8f0" stroke-width="0.85" fill="none"/>
<polyline points="494.21,46.08 498.12,77.49 502.03,85.48 505.94,88.8 509.86,90.98 513.77,93.95 517.68,96.44 521.59,98.44 525.5,99.94 529.41,101.44 533.32,102.44 537.23,103.44 541.14,103.94 545.06,104.44 548.97,104.94 552.88,105.36 556.79,105.62" stroke="#48aaf0" stroke-width="0.9" fill="none"/>
<path d="M494.21 40.01V82.07M498.12 70.45V92.53M502.03 81.41V94.55M505.94 87.22V97.73M509.86 91V98.89M513.77 93.61V99.91M517.68 95.81V101.07M521.59 97.65V101.86M525.5 99.36V102.52M529.41 101.12V103.75M533.32 102.39V104.49M537.23 103.15V104.73M541.14 103.78V105.09M545.06 104.41V105.46M548.97 104.75V105.54M552.88 105.12V105.75M556.79 105.46V105.99" stroke="#f27399" stroke-width="0.85" fill="none"/>
<polyline points="494.21,61.04 498.12,81.49 502.03,87.98 505.94,92.48 509.86,94.95 513.77,96.76 517.68,98.44 521.59,99.76 525.5,100.94 529.41,102.44 533.32,103.44 537.23,103.94 541.14,104.44 545.06,104.94 548.97,105.15 552.88,105.44 556.79,105.72" stroke="#f54b7c" stroke-width="0.9" fill="none"/>
<circle cx="494.21" cy="46.08" r="1.1" fill="#2a7de8"/>
<circle cx="498.12" cy="77.49" r="1.1" fill="#2a7de8"/>
<circle cx="502.03" cy="85.48" r="1.1" fill="#2a7de8"/>
<circle cx="505.94" cy="88.8" r="1.1" fill="#2a7de8"/>
<circle cx="509.86" cy="90.98" r="1.1" fill="#2a7de8"/>
<circle cx="513.77" cy="93.95" r="1.1" fill="#2a7de8"/>
<circle cx="517.68" cy="96.44" r="1.1" fill="#2a7de8"/>
<circle cx="521.59" cy="98.44" r="1.1" fill="#2a7de8"/>
<circle cx="525.5" cy="99.94" r="1.1" fill="#2a7de8"/>
<circle cx="529.41" cy="101.44" r="1.1" fill="#2a7de8"/>
<circle cx="533.32" cy="102.44" r="1.1" fill="#2a7de8"/>
<circle cx="537.23" cy="103.44" r="1.1" fill="#2a7de8"/>
<circle cx="541.14" cy="103.94" r="1.1" fill="#2a7de8"/>
<circle cx="545.06" cy="104.44" r="1.1" fill="#2a7de8"/>
<circle cx="548.97" cy="104.94" r="1.1" fill="#2a7de8"/>
<circle cx="552.88" cy="105.36" r="1.1" fill="#2a7de8"/>
<circle cx="556.79" cy="105.62" r="1.1" fill="#2a7de8"/>
<circle cx="494.21" cy="61.04" r="1.1" fill="#f41c5a"/>
<circle cx="498.12" cy="81.49" r="1.1" fill="#f41c5a"/>
<circle cx="502.03" cy="87.98" r="1.1" fill="#f41c5a"/>
<circle cx="505.94" cy="92.48" r="1.1" fill="#f41c5a"/>
<circle cx="509.86" cy="94.95" r="1.1" fill="#f41c5a"/>
<circle cx="513.77" cy="96.76" r="1.1" fill="#f41c5a"/>
<circle cx="517.68" cy="98.44" r="1.1" fill="#f41c5a"/>
<circle cx="521.59" cy="99.76" r="1.1" fill="#f41c5a"/>
<circle cx="525.5" cy="100.94" r="1.1" fill="#f41c5a"/>
<circle cx="529.41" cy="102.44" r="1.1" fill="#f41c5a"/>
<circle cx="533.32" cy="103.44" r="1.1" fill="#f41c5a"/>
<circle cx="537.23" cy="103.94" r="1.1" fill="#f41c5a"/>
<circle cx="541.14" cy="104.44" r="1.1" fill="#f41c5a"/>
<circle cx="545.06" cy="104.94" r="1.1" fill="#f41c5a"/>
<circle cx="548.97" cy="105.15" r="1.1" fill="#f41c5a"/>
<circle cx="552.88" cy="105.44" r="1.1" fill="#f41c5a"/>
<circle cx="556.79" cy="105.72" r="1.1" fill="#f41c5a"/>
</g>
<rect x="490.3" y="13.35" width="70.4" height="105.15" fill="none" stroke="#a2a2a2" stroke-width="0.6"/>
<text x="488.7" y="120.85" text-anchor="end" font-size="4.5" fill="#222">0.5</text>
<text x="488.7" y="107.71" text-anchor="end" font-size="4.5" fill="#222">1</text>
<text x="488.7" y="94.56" text-anchor="end" font-size="4.5" fill="#222">1.5</text>
<text x="488.7" y="81.42" text-anchor="end" font-size="4.5" fill="#222">2</text>
<text x="488.7" y="68.27" text-anchor="end" font-size="4.5" fill="#222">2.5</text>
<text x="488.7" y="55.13" text-anchor="end" font-size="4.5" fill="#222">3</text>
<text x="488.7" y="41.99" text-anchor="end" font-size="4.5" fill="#222">3.5</text>
<text x="488.7" y="28.84" text-anchor="end" font-size="4.5" fill="#222">4</text>
<text x="488.7" y="15.7" text-anchor="end" font-size="4.5" fill="#222">4.5</text>
<text x="494.21" y="125.3" text-anchor="middle" font-size="4.5" fill="#222">10</text>
<text x="502.03" y="125.3" text-anchor="middle" font-size="4.5" fill="#222">20</text>
<text x="509.86" y="125.3" text-anchor="middle" font-size="4.5" fill="#222">30</text>
<text x="517.68" y="125.3" text-anchor="middle" font-size="4.5" fill="#222">40</text>
<text x="525.5" y="125.3" text-anchor="middle" font-size="4.5" fill="#222">50</text>
<text x="533.32" y="125.3" text-anchor="middle" font-size="4.5" fill="#222">60</text>
<text x="541.14" y="125.3" text-anchor="middle" font-size="4.5" fill="#222">70</text>
<text x="548.97" y="125.3" text-anchor="middle" font-size="4.5" fill="#222">80</text>
<text x="556.79" y="125.3" text-anchor="middle" font-size="4.5" fill="#222">90</text>
<text x="525.5" y="11.2" text-anchor="middle" font-size="6.95" font-weight="bold" fill="#111" stroke="#111" stroke-width="0.18">DELTA</text>
<clipPath id="c6"><rect x="578.4" y="13.35" width="70.3" height="105.15"/></clipPath>
<path d="M582.31 13.35V118.5M590.12 13.35V118.5M597.93 13.35V118.5M605.74 13.35V118.5M613.55 13.35V118.5M621.36 13.35V118.5M629.17 13.35V118.5M636.98 13.35V118.5M644.79 13.35V118.5M578.4 118.5H648.7M578.4 105.36H648.7M578.4 92.21H648.7M578.4 79.07H648.7M578.4 65.92H648.7M578.4 52.78H648.7M578.4 39.64H648.7M578.4 26.49H648.7M578.4 13.35H648.7" stroke="#ececec" stroke-width="0.5" fill="none"/>
<rect x="604.29" y="13.35" width="2.9" height="105.15" fill="url(#barl)"/>
<rect x="608.19" y="13.35" width="2.9" height="105.15" fill="url(#bard)"/>
<rect x="612.1" y="13.35" width="2.9" height="105.15" fill="url(#bard)"/>
<rect x="616.01" y="13.35" width="2.9" height="105.15" fill="url(#bard)"/>
<rect x="619.91" y="13.35" width="2.9" height="105.15" fill="url(#barm)"/>
<rect x="623.82" y="13.35" width="2.9" height="105.15" fill="url(#bard)"/>
<rect x="627.72" y="13.35" width="2.9" height="105.15" fill="url(#bard)"/>
<rect x="631.63" y="13.35" width="2.9" height="105.15" fill="url(#bard)"/>
<rect x="635.53" y="13.35" width="2.9" height="105.15" fill="url(#bard)"/>
<rect x="639.44" y="13.35" width="2.9" height="105.15" fill="url(#bard)"/>
<path d="M582.31 118.5v-0.9M582.31 13.35v0.9M590.12 118.5v-0.9M590.12 13.35v0.9M597.93 118.5v-0.9M597.93 13.35v0.9M605.74 118.5v-0.9M605.74 13.35v0.9M613.55 118.5v-0.9M613.55 13.35v0.9M621.36 118.5v-0.9M621.36 13.35v0.9M629.17 118.5v-0.9M629.17 13.35v0.9M636.98 118.5v-0.9M636.98 13.35v0.9M644.79 118.5v-0.9M644.79 13.35v0.9M578.4 118.5h0.9M648.7 118.5h-0.9M578.4 105.36h0.9M648.7 105.36h-0.9M578.4 92.21h0.9M648.7 92.21h-0.9M578.4 79.07h0.9M648.7 79.07h-0.9M578.4 65.92h0.9M648.7 65.92h-0.9M578.4 52.78h0.9M648.7 52.78h-0.9M578.4 39.64h0.9M648.7 39.64h-0.9M578.4 26.49h0.9M648.7 26.49h-0.9M578.4 13.35h0.9M648.7 13.35h-0.9" stroke="#a2a2a2" stroke-width="0.5" fill="none"/>
<g clip-path="url(#c6)">
<path d="M582.31 25.02V26.23M586.21 87.32V93.84M586.21 59.14V63.66M590.12 93.42V94.95M594.02 95.05V97.34M597.93 97.73V99.7M601.83 99.1V100.89M605.74 100.1V102.1M609.64 100.78V102.57M613.55 101.54V103.54M617.46 102.31V103.52M621.36 103.04V104.04M625.27 103.78V104.3M629.17 104.23V104.57M633.08 104.59V104.83M636.98 105.17V105.3M640.89 105.33V105.49M644.79 105.7V105.75" stroke="#74b8f0" stroke-width="0.85" fill="none"/>
<polyline points="582.31,55.25 586.21,76.49 590.12,85.48 594.02,89.98 597.93,94.45 601.83,96.94 605.74,98.94 609.64,99.94 613.55,101.44 617.46,101.94 621.36,102.73 625.27,103.25 629.17,103.78 633.08,104.17 636.98,104.78 640.89,105.09 644.79,105.49" stroke="#48aaf0" stroke-width="0.9" fill="none"/>
<path d="M582.31 26.23V88.27M586.21 63.66V87.32M590.12 75.55V93.42M594.02 81.91V95.05M597.93 87.22V97.73M601.83 91.21V99.1M605.74 93.79V100.1M609.64 95.52V100.78M613.55 97.34V101.54M617.46 99.15V102.31M621.36 100.41V103.04M625.27 101.68V103.78M629.17 102.65V104.23M633.08 103.28V104.59M636.98 104.12V105.17M640.89 104.54V105.33M644.79 105.17V105.7" stroke="#f27399" stroke-width="0.85" fill="none"/>
<polyline points="582.31,57.25 586.21,75.49 590.12,84.48 594.02,88.48 597.93,92.48 601.83,95.16 605.74,96.94 609.64,98.15 613.55,99.44 617.46,100.73 621.36,101.73 625.27,102.73 629.17,103.44 633.08,103.94 636.98,104.65 640.89,104.94 644.79,105.44" stroke="#f54b7c" stroke-width="0.9" fill="none"/>
<circle cx="582.31" cy="55.25" r="1.1" fill="#2a7de8"/>
<circle cx="586.21" cy="76.49" r="1.1" fill="#2a7de8"/>
<circle cx="590.12" cy="85.48" r="1.1" fill="#2a7de8"/>
<circle cx="594.02" cy="89.98" r="1.1" fill="#2a7de8"/>
<circle cx="597.93" cy="94.45" r="1.1" fill="#2a7de8"/>
<circle cx="601.83" cy="96.94" r="1.1" fill="#2a7de8"/>
<circle cx="605.74" cy="98.94" r="1.1" fill="#2a7de8"/>
<circle cx="609.64" cy="99.94" r="1.1" fill="#2a7de8"/>
<circle cx="613.55" cy="101.44" r="1.1" fill="#2a7de8"/>
<circle cx="617.46" cy="101.94" r="1.1" fill="#2a7de8"/>
<circle cx="621.36" cy="102.73" r="1.1" fill="#2a7de8"/>
<circle cx="625.27" cy="103.25" r="1.1" fill="#2a7de8"/>
<circle cx="629.17" cy="103.78" r="1.1" fill="#2a7de8"/>
<circle cx="633.08" cy="104.17" r="1.1" fill="#2a7de8"/>
<circle cx="636.98" cy="104.78" r="1.1" fill="#2a7de8"/>
<circle cx="640.89" cy="105.09" r="1.1" fill="#2a7de8"/>
<circle cx="644.79" cy="105.49" r="1.1" fill="#2a7de8"/>
<circle cx="582.31" cy="57.25" r="1.1" fill="#f41c5a"/>
<circle cx="586.21" cy="75.49" r="1.1" fill="#f41c5a"/>
<circle cx="590.12" cy="84.48" r="1.1" fill="#f41c5a"/>
<circle cx="594.02" cy="88.48" r="1.1" fill="#f41c5a"/>
<circle cx="597.93" cy="92.48" r="1.1" fill="#f41c5a"/>
<circle cx="601.83" cy="95.16" r="1.1" fill="#f41c5a"/>
<circle cx="605.74" cy="96.94" r="1.1" fill="#f41c5a"/>
<circle cx="609.64" cy="98.15" r="1.1" fill="#f41c5a"/>
<circle cx="613.55" cy="99.44" r="1.1" fill="#f41c5a"/>
<circle cx="617.46" cy="100.73" r="1.1" fill="#f41c5a"/>
<circle cx="621.36" cy="101.73" r="1.1" fill="#f41c5a"/>
<circle cx="625.27" cy="102.73" r="1.1" fill="#f41c5a"/>
<circle cx="629.17" cy="103.44" r="1.1" fill="#f41c5a"/>
<circle cx="633.08" cy="103.94" r="1.1" fill="#f41c5a"/>
<circle cx="636.98" cy="104.65" r="1.1" fill="#f41c5a"/>
<circle cx="640.89" cy="104.94" r="1.1" fill="#f41c5a"/>
<circle cx="644.79" cy="105.44" r="1.1" fill="#f41c5a"/>
</g>
<rect x="578.4" y="13.35" width="70.3" height="105.15" fill="none" stroke="#a2a2a2" stroke-width="0.6"/>
<text x="576.8" y="120.85" text-anchor="end" font-size="4.5" fill="#222">0.5</text>
<text x="576.8" y="107.71" text-anchor="end" font-size="4.5" fill="#222">1</text>
<text x="576.8" y="94.56" text-anchor="end" font-size="4.5" fill="#222">1.5</text>
<text x="576.8" y="81.42" text-anchor="end" font-size="4.5" fill="#222">2</text>
<text x="576.8" y="68.27" text-anchor="end" font-size="4.5" fill="#222">2.5</text>
<text x="576.8" y="55.13" text-anchor="end" font-size="4.5" fill="#222">3</text>
<text x="576.8" y="41.99" text-anchor="end" font-size="4.5" fill="#222">3.5</text>
<text x="576.8" y="28.84" text-anchor="end" font-size="4.5" fill="#222">4</text>
<text x="576.8" y="15.7" text-anchor="end" font-size="4.5" fill="#222">4.5</text>
<text x="582.31" y="125.3" text-anchor="middle" font-size="4.5" fill="#222">10</text>
<text x="590.12" y="125.3" text-anchor="middle" font-size="4.5" fill="#222">20</text>
<text x="597.93" y="125.3" text-anchor="middle" font-size="4.5" fill="#222">30</text>
<text x="605.74" y="125.3" text-anchor="middle" font-size="4.5" fill="#222">40</text>
<text x="613.55" y="125.3" text-anchor="middle" font-size="4.5" fill="#222">50</text>
<text x="621.36" y="125.3" text-anchor="middle" font-size="4.5" fill="#222">60</text>
<text x="629.17" y="125.3" text-anchor="middle" font-size="4.5" fill="#222">70</text>
<text x="636.98" y="125.3" text-anchor="middle" font-size="4.5" fill="#222">80</text>
<text x="644.79" y="125.3" text-anchor="middle" font-size="4.5" fill="#222">90</text>
<text x="613.55" y="11.2" text-anchor="middle" font-size="6.95" font-weight="bold" fill="#111" stroke="#111" stroke-width="0.18">THETA</text>
<clipPath id="c7"><rect x="667.5" y="13.35" width="70.3" height="105.15"/></clipPath>
<path d="M671.41 13.35V118.5M679.22 13.35V118.5M687.03 13.35V118.5M694.84 13.35V118.5M702.65 13.35V118.5M710.46 13.35V118.5M718.27 13.35V118.5M726.08 13.35V118.5M733.89 13.35V118.5M667.5 118.5H737.8M667.5 105.36H737.8M667.5 92.21H737.8M667.5 79.07H737.8M667.5 65.92H737.8M667.5 52.78H737.8M667.5 39.64H737.8M667.5 26.49H737.8M667.5 13.35H737.8" stroke="#ececec" stroke-width="0.5" fill="none"/>
<rect x="685.58" y="13.35" width="2.9" height="105.15" fill="url(#bard)"/>
<rect x="697.29" y="13.35" width="2.9" height="105.15" fill="url(#barl)"/>
<rect x="705.11" y="13.35" width="2.9" height="105.15" fill="url(#barl)"/>
<path d="M671.41 118.5v-0.9M671.41 13.35v0.9M679.22 118.5v-0.9M679.22 13.35v0.9M687.03 118.5v-0.9M687.03 13.35v0.9M694.84 118.5v-0.9M694.84 13.35v0.9M702.65 118.5v-0.9M702.65 13.35v0.9M710.46 118.5v-0.9M710.46 13.35v0.9M718.27 118.5v-0.9M718.27 13.35v0.9M726.08 118.5v-0.9M726.08 13.35v0.9M733.89 118.5v-0.9M733.89 13.35v0.9M667.5 118.5h0.9M737.8 118.5h-0.9M667.5 105.36h0.9M737.8 105.36h-0.9M667.5 92.21h0.9M737.8 92.21h-0.9M667.5 79.07h0.9M737.8 79.07h-0.9M667.5 65.92h0.9M737.8 65.92h-0.9M667.5 52.78h0.9M737.8 52.78h-0.9M667.5 39.64h0.9M737.8 39.64h-0.9M667.5 26.49h0.9M737.8 26.49h-0.9M667.5 13.35h0.9M737.8 13.35h-0.9" stroke="#a2a2a2" stroke-width="0.5" fill="none"/>
<g clip-path="url(#c7)">
<path d="M671.41 16.16V22.29M675.31 55.94V59.48M679.22 71.6V73M683.12 79.41V83.22M687.03 85.22V89.08M690.93 90V91.79M694.84 99.57V99.6M694.84 93.29V94.32M698.74 101.05V101.07M698.74 95.81V96.84M702.65 102.02V102.2M702.65 98V98.86M706.56 100.1V100.62M710.46 104.2V104.3M710.46 101.68V102.1M714.37 104.73V104.88M714.37 102.78V103.15M718.27 105.09V105.15M718.27 103.57V103.78M722.18 105.46V105.54M722.18 104.23V104.41M726.08 105.54V105.62M726.08 104.57V104.75M729.99 104.96V105.12M733.89 105.3V105.36" stroke="#74b8f0" stroke-width="0.85" fill="none"/>
<polyline points="671.41,45.87 675.31,67.5 679.22,79.49 683.12,85.98 687.03,90.48 690.93,93.95 694.84,96.44 698.74,98.44 702.65,100.1 706.56,101.68 710.46,102.99 714.37,103.83 718.27,104.36 722.18,104.88 726.08,105.09 729.99,105.36 733.89,105.57" stroke="#48aaf0" stroke-width="0.9" fill="none"/>
<path d="M671.41 22.29V84.33M675.31 59.48V90.5M679.22 73V92.97M683.12 83.22V93.74M687.03 89.08V96.44M690.93 91.79V98.1M694.84 94.32V99.57M698.74 96.84V101.05M702.65 98.86V102.02M706.56 100.62V103.25M710.46 102.1V104.2M714.37 103.15V104.73M718.27 103.78V105.09M722.18 104.41V105.46M726.08 104.75V105.54M729.99 105.12V105.75M733.89 105.36V105.88" stroke="#f27399" stroke-width="0.85" fill="none"/>
<polyline points="671.41,53.31 675.31,74.99 679.22,82.99 683.12,88.48 687.03,92.76 690.93,94.95 694.84,96.94 698.74,98.94 702.65,100.44 706.56,101.94 710.46,103.15 714.37,103.94 718.27,104.44 722.18,104.94 726.08,105.15 729.99,105.44 733.89,105.62" stroke="#f54b7c" stroke-width="0.9" fill="none"/>
<circle cx="671.41" cy="45.87" r="1.1" fill="#2a7de8"/>
<circle cx="675.31" cy="67.5" r="1.1" fill="#2a7de8"/>
<circle cx="679.22" cy="79.49" r="1.1" fill="#2a7de8"/>
<circle cx="683.12" cy="85.98" r="1.1" fill="#2a7de8"/>
<circle cx="687.03" cy="90.48" r="1.1" fill="#2a7de8"/>
<circle cx="690.93" cy="93.95" r="1.1" fill="#2a7de8"/>
<circle cx="694.84" cy="96.44" r="1.1" fill="#2a7de8"/>
<circle cx="698.74" cy="98.44" r="1.1" fill="#2a7de8"/>
<circle cx="702.65" cy="100.1" r="1.1" fill="#2a7de8"/>
<circle cx="706.56" cy="101.68" r="1.1" fill="#2a7de8"/>
<circle cx="710.46" cy="102.99" r="1.1" fill="#2a7de8"/>
<circle cx="714.37" cy="103.83" r="1.1" fill="#2a7de8"/>
<circle cx="718.27" cy="104.36" r="1.1" fill="#2a7de8"/>
<circle cx="722.18" cy="104.88" r="1.1" fill="#2a7de8"/>
<circle cx="726.08" cy="105.09" r="1.1" fill="#2a7de8"/>
<circle cx="729.99" cy="105.36" r="1.1" fill="#2a7de8"/>
<circle cx="733.89" cy="105.57" r="1.1" fill="#2a7de8"/>
<circle cx="671.41" cy="53.31" r="1.1" fill="#f41c5a"/>
<circle cx="675.31" cy="74.99" r="1.1" fill="#f41c5a"/>
<circle cx="679.22" cy="82.99" r="1.1" fill="#f41c5a"/>
<circle cx="683.12" cy="88.48" r="1.1" fill="#f41c5a"/>
<circle cx="687.03" cy="92.76" r="1.1" fill="#f41c5a"/>
<circle cx="690.93" cy="94.95" r="1.1" fill="#f41c5a"/>
<circle cx="694.84" cy="96.94" r="1.1" fill="#f41c5a"/>
<circle cx="698.74" cy="98.94" r="1.1" fill="#f41c5a"/>
<circle cx="702.65" cy="100.44" r="1.1" fill="#f41c5a"/>
<circle cx="706.56" cy="101.94" r="1.1" fill="#f41c5a"/>
<circle cx="710.46" cy="103.15" r="1.1" fill="#f41c5a"/>
<circle cx="714.37" cy="103.94" r="1.1" fill="#f41c5a"/>
<circle cx="718.27" cy="104.44" r="1.1" fill="#f41c5a"/>
<circle cx="722.18" cy="104.94" r="1.1" fill="#f41c5a"/>
<circle cx="726.08" cy="105.15" r="1.1" fill="#f41c5a"/>
<circle cx="729.99" cy="105.44" r="1.1" fill="#f41c5a"/>
<circle cx="733.89" cy="105.62" r="1.1" fill="#f41c5a"/>
</g>
<rect x="667.5" y="13.35" width="70.3" height="105.15" fill="none" stroke="#a2a2a2" stroke-width="0.6"/>
<text x="665.9" y="120.85" text-anchor="end" font-size="4.5" fill="#222">0.5</text>
<text x="665.9" y="107.71" text-anchor="end" font-size="4.5" fill="#222">1</text>
<text x="665.9" y="94.56" text-anchor="end" font-size="4.5" fill="#222">1.5</text>
<text x="665.9" y="81.42" text-anchor="end" font-size="4.5" fill="#222">2</text>
<text x="665.9" y="68.27" text-anchor="end" font-size="4.5" fill="#222">2.5</text>
<text x="665.9" y="55.13" text-anchor="end" font-size="4.5" fill="#222">3</text>
<text x="665.9" y="41.99" text-anchor="end" font-size="4.5" fill="#222">3.5</text>
<text x="665.9" y="28.84" text-anchor="end" font-size="4.5" fill="#222">4</text>
<text x="665.9" y="15.7" text-anchor="end" font-size="4.5" fill="#222">4.5</text>
<text x="671.41" y="125.3" text-anchor="middle" font-size="4.5" fill="#222">10</text>
<text x="679.22" y="125.3" text-anchor="middle" font-size="4.5" fill="#222">20</text>
<text x="687.03" y="125.3" text-anchor="middle" font-size="4.5" fill="#222">30</text>
<text x="694.84" y="125.3" text-anchor="middle" font-size="4.5" fill="#222">40</text>
<text x="702.65" y="125.3" text-anchor="middle" font-size="4.5" fill="#222">50</text>
<text x="710.46" y="125.3" text-anchor="middle" font-size="4.5" fill="#222">60</text>
<text x="718.27" y="125.3" text-anchor="middle" font-size="4.5" fill="#222">70</text>
<text x="726.08" y="125.3" text-anchor="middle" font-size="4.5" fill="#222">80</text>
<text x="733.89" y="125.3" text-anchor="middle" font-size="4.5" fill="#222">90</text>
<text x="702.65" y="11.2" text-anchor="middle" font-size="6.95" font-weight="bold" fill="#111" stroke="#111" stroke-width="0.18">GAMMA</text>
<text transform="translate(7.3,65.8) rotate(-90)" text-anchor="middle" font-size="5.52" font-weight="bold" fill="#111" stroke="#111" stroke-width="0.22">CLUSTERING COEFFICIENT</text>
<text transform="translate(285.15,65.65) rotate(-90)" text-anchor="middle" font-size="5.62" font-weight="bold" fill="#111" stroke="#111" stroke-width="0.22">CHARACTERISTIC PATH LENGTH</text>
<text transform="translate(478.15,65.3) rotate(-90)" text-anchor="middle" font-size="5.52" font-weight="bold" fill="#111" stroke="#111" stroke-width="0.22">SMALL WORLDNESS</text>
<text x="55.1" y="131.6" text-anchor="middle" font-size="5.02" font-weight="bold" fill="#111" stroke="#111" stroke-width="0.16">GRAPH DENSITY (%)</text>
<path d="M58.9 104.6H70.6" stroke="#48aaf0" stroke-width="0.8"/><path d="M64.9 102.3V107" stroke="#74b8f0" stroke-width="0.7"/><circle cx="64.9" cy="104.6" r="0.95" fill="#2a7de8"/>
<path d="M58.9 111.4H70.6" stroke="#f54b7c" stroke-width="0.8"/><path d="M64.9 109.1V113.8" stroke="#f27399" stroke-width="0.7"/><circle cx="64.9" cy="111.4" r="0.95" fill="#f41c5a"/>
<text x="72" y="106.6" font-size="4.8" fill="#333">PRE</text>
<text x="72" y="113.4" font-size="4.8" fill="#333">POST</text>
<text x="0.4" y="10" font-size="12.9" font-weight="bold" fill="#000" stroke="#000" stroke-width="0.3">A</text>
<text x="0.5" y="144" font-size="12.6" font-weight="bold" fill="#000" stroke="#000" stroke-width="0.3">B</text>
<path d="M19.4 147.2V255.4" fill="none" stroke="#7a7a7a" stroke-width="0.6"/>
<path d="M19.4 255.4H92" fill="none" stroke="#7a7a7a" stroke-width="0.6"/>
<path d="M19.4 255.4h-1.6M19.4 233.76h-1.6M19.4 212.12h-1.6M19.4 190.48h-1.6M19.4 168.84h-1.6M19.4 147.2h-1.6M41.9 255.4v1.1M69.7 255.4v1.1" stroke="#7a7a7a" stroke-width="0.5"/>
<text x="17.3" y="257.45" text-anchor="end" font-size="4.75" fill="#2a2a2a" stroke="#2a2a2a" stroke-width="0.14">0.35</text>
<text x="17.3" y="235.81" text-anchor="end" font-size="4.75" fill="#2a2a2a" stroke="#2a2a2a" stroke-width="0.14">0.40</text>
<text x="17.3" y="214.17" text-anchor="end" font-size="4.75" fill="#2a2a2a" stroke="#2a2a2a" stroke-width="0.14">0.45</text>
<text x="17.3" y="192.53" text-anchor="end" font-size="4.75" fill="#2a2a2a" stroke="#2a2a2a" stroke-width="0.14">0.50</text>
<text x="17.3" y="170.89" text-anchor="end" font-size="4.75" fill="#2a2a2a" stroke="#2a2a2a" stroke-width="0.14">0.55</text>
<text x="17.3" y="149.25" text-anchor="end" font-size="4.75" fill="#2a2a2a" stroke="#2a2a2a" stroke-width="0.14">0.60</text>
<text x="41.9" y="261.7" text-anchor="middle" font-size="4.8" fill="#2a2a2a" stroke="#2a2a2a" stroke-width="0.14">PRE</text>
<text x="69.7" y="261.7" text-anchor="middle" font-size="4.8" fill="#2a2a2a" stroke="#2a2a2a" stroke-width="0.14">POST</text>
<path d="M44 153.2C44.17 154 44.57 156.03 45 158C45.43 159.97 45.97 162.17 46.6 165C47.23 167.83 48.12 172.17 48.8 175C49.48 177.83 50.15 179.5 50.7 182C51.25 184.5 51.78 187 52.1 190C52.42 193 52.55 196.33 52.6 200C52.65 203.67 52.67 207.83 52.4 212C52.13 216.17 51.58 221.5 51 225C50.42 228.5 49.7 230.7 48.9 233C48.1 235.3 46.65 237.83 46.2 238.8L37.2 238.8C36.75 237.83 35.3 235.3 34.5 233C33.7 230.7 32.98 228.5 32.4 225C31.82 221.5 31.27 216.17 31 212C30.73 207.83 30.75 203.67 30.8 200C30.85 196.33 30.98 193 31.3 190C31.62 187 32.15 184.5 32.7 182C33.25 179.5 33.92 177.83 34.6 175C35.28 172.17 36.17 167.83 36.8 165C37.43 162.17 37.97 159.97 38.4 158C38.83 156.03 39.23 154 39.4 153.2Z" fill="none" stroke="#595959" stroke-width="0.6"/>
<path d="M30.84 202.1H52.57" stroke="#777" stroke-width="0.55" stroke-dasharray="1.6 1.0"/>
<circle cx="41.9" cy="153.4" r="1.38" fill="none" stroke="#3a88e6" stroke-width="0.75"/>
<circle cx="41.9" cy="163.6" r="1.38" fill="none" stroke="#3a88e6" stroke-width="0.75"/>
<circle cx="41.9" cy="176.7" r="1.38" fill="none" stroke="#3a88e6" stroke-width="0.75"/>
<circle cx="39.4" cy="184" r="1.38" fill="none" stroke="#3a88e6" stroke-width="0.75"/>
<circle cx="44.6" cy="182.5" r="1.38" fill="none" stroke="#3a88e6" stroke-width="0.75"/>
<circle cx="36.6" cy="188.4" r="1.38" fill="none" stroke="#3a88e6" stroke-width="0.75"/>
<circle cx="41.9" cy="186.8" r="1.38" fill="none" stroke="#3a88e6" stroke-width="0.75"/>
<circle cx="41.9" cy="190.6" r="1.38" fill="none" stroke="#3a88e6" stroke-width="0.75"/>
<circle cx="47.1" cy="187.7" r="1.38" fill="none" stroke="#3a88e6" stroke-width="0.75"/>
<circle cx="47.1" cy="193.4" r="1.38" fill="none" stroke="#3a88e6" stroke-width="0.75"/>
<circle cx="41.9" cy="195.9" r="1.38" fill="none" stroke="#3a88e6" stroke-width="0.75"/>
<circle cx="41.9" cy="201.8" r="1.38" fill="none" stroke="#3a88e6" stroke-width="0.75"/>
<circle cx="41.9" cy="205.3" r="1.38" fill="none" stroke="#3a88e6" stroke-width="0.75"/>
<circle cx="41.9" cy="210.3" r="1.38" fill="none" stroke="#3a88e6" stroke-width="0.75"/>
<circle cx="36.4" cy="214.7" r="1.38" fill="none" stroke="#3a88e6" stroke-width="0.75"/>
<circle cx="47.1" cy="215.3" r="1.38" fill="none" stroke="#3a88e6" stroke-width="0.75"/>
<circle cx="41.9" cy="216.9" r="1.38" fill="none" stroke="#3a88e6" stroke-width="0.75"/>
<circle cx="36.6" cy="219.3" r="1.38" fill="none" stroke="#3a88e6" stroke-width="0.75"/>
<circle cx="41.9" cy="221.6" r="1.38" fill="none" stroke="#3a88e6" stroke-width="0.75"/>
<circle cx="47.1" cy="225.8" r="1.38" fill="none" stroke="#3a88e6" stroke-width="0.75"/>
<circle cx="41.9" cy="228.6" r="1.38" fill="none" stroke="#3a88e6" stroke-width="0.75"/>
<circle cx="41.9" cy="234.5" r="1.38" fill="none" stroke="#3a88e6" stroke-width="0.75"/>
<circle cx="41.9" cy="238.8" r="1.38" fill="none" stroke="#3a88e6" stroke-width="0.75"/>
<path d="M72.6 184.2C72.78 184.83 73.42 186.2 73.7 188C73.98 189.8 74.08 192.67 74.3 195C74.52 197.33 74.6 199.83 75 202C75.4 204.17 76.05 206.17 76.7 208C77.35 209.83 78.25 211.17 78.9 213C79.55 214.83 80.43 216.83 80.6 219C80.77 221.17 80.52 223.83 79.9 226C79.28 228.17 78.03 229.83 76.9 232C75.77 234.17 74.07 237 73.1 239C72.13 241 71.57 242.87 71.1 244C70.63 245.13 70.43 245.5 70.3 245.8L69.1 245.8C68.97 245.5 68.77 245.13 68.3 244C67.83 242.87 67.27 241 66.3 239C65.33 237 63.63 234.17 62.5 232C61.37 229.83 60.12 228.17 59.5 226C58.88 223.83 58.63 221.17 58.8 219C58.97 216.83 59.85 214.83 60.5 213C61.15 211.17 62.05 209.83 62.7 208C63.35 206.17 64 204.17 64.4 202C64.8 199.83 64.88 197.33 65.1 195C65.32 192.67 65.42 189.8 65.7 188C65.98 186.2 66.62 184.83 66.8 184.2Z" fill="none" stroke="#595959" stroke-width="0.6"/>
<path d="M58.87 219.7H80.53" stroke="#777" stroke-width="0.55" stroke-dasharray="1.6 1.0"/>
<circle cx="66.8" cy="184.9" r="1.38" fill="none" stroke="#e82e38" stroke-width="0.75"/>
<circle cx="72.5" cy="184.2" r="1.38" fill="none" stroke="#e82e38" stroke-width="0.75"/>
<circle cx="67" cy="198.6" r="1.38" fill="none" stroke="#e82e38" stroke-width="0.75"/>
<circle cx="72.5" cy="199" r="1.38" fill="none" stroke="#e82e38" stroke-width="0.75"/>
<circle cx="67" cy="205.6" r="1.38" fill="none" stroke="#e82e38" stroke-width="0.75"/>
<circle cx="72.5" cy="205" r="1.38" fill="none" stroke="#e82e38" stroke-width="0.75"/>
<circle cx="61.4" cy="214.5" r="1.38" fill="none" stroke="#e82e38" stroke-width="0.75"/>
<circle cx="72.5" cy="212.9" r="1.38" fill="none" stroke="#e82e38" stroke-width="0.75"/>
<circle cx="78.1" cy="216.3" r="1.38" fill="none" stroke="#e82e38" stroke-width="0.75"/>
<circle cx="61.2" cy="217.6" r="1.38" fill="none" stroke="#e82e38" stroke-width="0.75"/>
<circle cx="61.2" cy="220.7" r="1.38" fill="none" stroke="#e82e38" stroke-width="0.75"/>
<circle cx="61.2" cy="225" r="1.38" fill="none" stroke="#e82e38" stroke-width="0.75"/>
<circle cx="67.1" cy="219.7" r="1.38" fill="none" stroke="#e82e38" stroke-width="0.75"/>
<circle cx="67.1" cy="226" r="1.38" fill="none" stroke="#e82e38" stroke-width="0.75"/>
<circle cx="67.1" cy="231" r="1.38" fill="none" stroke="#e82e38" stroke-width="0.75"/>
<circle cx="72.5" cy="218.3" r="1.38" fill="none" stroke="#e82e38" stroke-width="0.75"/>
<circle cx="72.5" cy="221.9" r="1.38" fill="none" stroke="#e82e38" stroke-width="0.75"/>
<circle cx="72.5" cy="225" r="1.38" fill="none" stroke="#e82e38" stroke-width="0.75"/>
<circle cx="72.5" cy="229.2" r="1.38" fill="none" stroke="#e82e38" stroke-width="0.75"/>
<circle cx="72.5" cy="232.4" r="1.38" fill="none" stroke="#e82e38" stroke-width="0.75"/>
<circle cx="78.1" cy="221.9" r="1.38" fill="none" stroke="#e82e38" stroke-width="0.75"/>
<circle cx="78.1" cy="226" r="1.38" fill="none" stroke="#e82e38" stroke-width="0.75"/>
<circle cx="69.7" cy="245.8" r="1.38" fill="none" stroke="#e82e38" stroke-width="0.75"/>
<path d="M107.5 147.2V255.4" fill="none" stroke="#7a7a7a" stroke-width="0.6"/>
<path d="M107.5 255.4H180.1" fill="none" stroke="#7a7a7a" stroke-width="0.6"/>
<path d="M107.5 255.4h-1.6M107.5 219.33h-1.6M107.5 183.27h-1.6M107.5 147.2h-1.6M130 255.4v1.1M157.8 255.4v1.1" stroke="#7a7a7a" stroke-width="0.5"/>
<text x="105.4" y="257.45" text-anchor="end" font-size="4.75" fill="#2a2a2a" stroke="#2a2a2a" stroke-width="0.14">0.60</text>
<text x="105.4" y="221.38" text-anchor="end" font-size="4.75" fill="#2a2a2a" stroke="#2a2a2a" stroke-width="0.14">0.65</text>
<text x="105.4" y="185.32" text-anchor="end" font-size="4.75" fill="#2a2a2a" stroke="#2a2a2a" stroke-width="0.14">0.70</text>
<text x="105.4" y="149.25" text-anchor="end" font-size="4.75" fill="#2a2a2a" stroke="#2a2a2a" stroke-width="0.14">0.75</text>
<text x="130" y="261.7" text-anchor="middle" font-size="4.8" fill="#2a2a2a" stroke="#2a2a2a" stroke-width="0.14">PRE</text>
<text x="157.8" y="261.7" text-anchor="middle" font-size="4.8" fill="#2a2a2a" stroke="#2a2a2a" stroke-width="0.14">POST</text>
<path d="M134.1 177.7C134.48 178.92 135.58 182.12 136.4 185C137.22 187.88 138.35 191.67 139 195C139.65 198.33 140.03 202.17 140.3 205C140.57 207.83 140.83 209.17 140.6 212C140.37 214.83 139.6 218.67 138.9 222C138.2 225.33 137.23 228.67 136.4 232C135.57 235.33 134.32 240.33 133.9 242L124.9 242C124.48 240.33 123.23 235.33 122.4 232C121.57 228.67 120.6 225.33 119.9 222C119.2 218.67 118.43 214.83 118.2 212C117.97 209.17 118.23 207.83 118.5 205C118.77 202.17 119.15 198.33 119.8 195C120.45 191.67 121.58 187.88 122.4 185C123.22 182.12 124.32 178.92 124.7 177.7Z" fill="none" stroke="#595959" stroke-width="0.6"/>
<path d="M118.7 203.5H140.11" stroke="#777" stroke-width="0.55" stroke-dasharray="1.6 1.0"/>
<circle cx="126.3" cy="177.3" r="1.38" fill="none" stroke="#3a88e6" stroke-width="0.75"/>
<circle cx="132.2" cy="178.2" r="1.38" fill="none" stroke="#3a88e6" stroke-width="0.75"/>
<circle cx="126.3" cy="181" r="1.38" fill="none" stroke="#3a88e6" stroke-width="0.75"/>
<circle cx="132.2" cy="183" r="1.38" fill="none" stroke="#3a88e6" stroke-width="0.75"/>
<circle cx="123.8" cy="195.6" r="1.38" fill="none" stroke="#3a88e6" stroke-width="0.75"/>
<circle cx="129.4" cy="195" r="1.38" fill="none" stroke="#3a88e6" stroke-width="0.75"/>
<circle cx="134.7" cy="194" r="1.38" fill="none" stroke="#3a88e6" stroke-width="0.75"/>
<circle cx="121" cy="201.2" r="1.38" fill="none" stroke="#3a88e6" stroke-width="0.75"/>
<circle cx="126.3" cy="200.2" r="1.38" fill="none" stroke="#3a88e6" stroke-width="0.75"/>
<circle cx="126.3" cy="203.1" r="1.38" fill="none" stroke="#3a88e6" stroke-width="0.75"/>
<circle cx="131.9" cy="202.4" r="1.38" fill="none" stroke="#3a88e6" stroke-width="0.75"/>
<circle cx="137.5" cy="203.8" r="1.38" fill="none" stroke="#3a88e6" stroke-width="0.75"/>
<circle cx="137.6" cy="209.9" r="1.38" fill="none" stroke="#3a88e6" stroke-width="0.75"/>
<circle cx="126.6" cy="212.3" r="1.38" fill="none" stroke="#3a88e6" stroke-width="0.75"/>
<circle cx="132.2" cy="212.3" r="1.38" fill="none" stroke="#3a88e6" stroke-width="0.75"/>
<circle cx="129.4" cy="216.3" r="1.38" fill="none" stroke="#3a88e6" stroke-width="0.75"/>
<circle cx="121" cy="220.2" r="1.38" fill="none" stroke="#3a88e6" stroke-width="0.75"/>
<circle cx="126.6" cy="220.8" r="1.38" fill="none" stroke="#3a88e6" stroke-width="0.75"/>
<circle cx="132.2" cy="223" r="1.38" fill="none" stroke="#3a88e6" stroke-width="0.75"/>
<circle cx="129.4" cy="234.6" r="1.38" fill="none" stroke="#3a88e6" stroke-width="0.75"/>
<circle cx="126.3" cy="239" r="1.38" fill="none" stroke="#3a88e6" stroke-width="0.75"/>
<circle cx="132.2" cy="241.3" r="1.38" fill="none" stroke="#3a88e6" stroke-width="0.75"/>
<path d="M158.9 166.5C159.13 166.75 159.7 167.08 160.3 168C160.9 168.92 161.73 170.33 162.5 172C163.27 173.67 164.13 176 164.9 178C165.67 180 166.5 182 167.1 184C167.7 186 168.53 187.83 168.5 190C168.47 192.17 167.63 194.5 166.9 197C166.17 199.5 164.87 202.5 164.1 205C163.33 207.5 162.88 209.67 162.3 212C161.72 214.33 161.17 217 160.6 219C160.03 221 159.28 222.17 158.9 224C158.52 225.83 158.37 228 158.3 230C158.23 232 158.57 234.5 158.5 236C158.43 237.5 158 238.5 157.9 239L156.7 239C156.6 238.5 156.17 237.5 156.1 236C156.03 234.5 156.37 232 156.3 230C156.23 228 156.08 225.83 155.7 224C155.32 222.17 154.57 221 154 219C153.43 217 152.88 214.33 152.3 212C151.72 209.67 151.27 207.5 150.5 205C149.73 202.5 148.43 199.5 147.7 197C146.97 194.5 146.13 192.17 146.1 190C146.07 187.83 146.9 186 147.5 184C148.1 182 148.93 180 149.7 178C150.47 176 151.33 173.67 152.1 172C152.87 170.33 153.7 168.92 154.3 168C154.9 167.08 155.47 166.75 155.7 166.5Z" fill="none" stroke="#595959" stroke-width="0.6"/>
<path d="M146.51 191.8H168.09" stroke="#777" stroke-width="0.55" stroke-dasharray="1.6 1.0"/>
<circle cx="157.3" cy="167" r="1.38" fill="none" stroke="#e82e38" stroke-width="0.75"/>
<circle cx="151.6" cy="177.7" r="1.38" fill="none" stroke="#e82e38" stroke-width="0.75"/>
<circle cx="155.6" cy="176.3" r="1.38" fill="none" stroke="#e82e38" stroke-width="0.75"/>
<circle cx="155.6" cy="179.6" r="1.38" fill="none" stroke="#e82e38" stroke-width="0.75"/>
<circle cx="159.4" cy="179.6" r="1.38" fill="none" stroke="#e82e38" stroke-width="0.75"/>
<circle cx="151.6" cy="183.4" r="1.38" fill="none" stroke="#e82e38" stroke-width="0.75"/>
<circle cx="155.6" cy="184.1" r="1.38" fill="none" stroke="#e82e38" stroke-width="0.75"/>
<circle cx="159.4" cy="184.8" r="1.38" fill="none" stroke="#e82e38" stroke-width="0.75"/>
<circle cx="155.6" cy="187.6" r="1.38" fill="none" stroke="#e82e38" stroke-width="0.75"/>
<circle cx="147.4" cy="192.2" r="1.38" fill="none" stroke="#e82e38" stroke-width="0.75"/>
<circle cx="151.4" cy="192.2" r="1.38" fill="none" stroke="#e82e38" stroke-width="0.75"/>
<circle cx="155.6" cy="191.8" r="1.38" fill="none" stroke="#e82e38" stroke-width="0.75"/>
<circle cx="159.4" cy="191.5" r="1.38" fill="none" stroke="#e82e38" stroke-width="0.75"/>
<circle cx="163.2" cy="191.5" r="1.38" fill="none" stroke="#e82e38" stroke-width="0.75"/>
<circle cx="167.1" cy="193.2" r="1.38" fill="none" stroke="#e82e38" stroke-width="0.75"/>
<circle cx="155.6" cy="195.3" r="1.38" fill="none" stroke="#e82e38" stroke-width="0.75"/>
<circle cx="159.4" cy="201.7" r="1.38" fill="none" stroke="#e82e38" stroke-width="0.75"/>
<circle cx="155.6" cy="203.5" r="1.38" fill="none" stroke="#e82e38" stroke-width="0.75"/>
<circle cx="159.4" cy="205.2" r="1.38" fill="none" stroke="#e82e38" stroke-width="0.75"/>
<circle cx="155.2" cy="214.2" r="1.38" fill="none" stroke="#e82e38" stroke-width="0.75"/>
<circle cx="159.4" cy="213.7" r="1.38" fill="none" stroke="#e82e38" stroke-width="0.75"/>
<circle cx="159.4" cy="217" r="1.38" fill="none" stroke="#e82e38" stroke-width="0.75"/>
<circle cx="157.3" cy="238.1" r="1.38" fill="none" stroke="#e82e38" stroke-width="0.75"/>
<path d="M193 147.2V256" fill="none" stroke="#bcbcbc" stroke-width="1"/>
<path d="M193 256H265.6" fill="none" stroke="#bcbcbc" stroke-width="1"/>
<path d="M193 255.4h-1.6M193 228.35h-1.6M193 201.3h-1.6M193 174.25h-1.6M193 147.2h-1.6M215.5 255.4v1.1M243.3 255.4v1.1" stroke="#7a7a7a" stroke-width="0.5"/>
<text x="190.9" y="257.45" text-anchor="end" font-size="4.75" fill="#2a2a2a" stroke="#2a2a2a" stroke-width="0.14">0.85</text>
<text x="190.9" y="230.4" text-anchor="end" font-size="4.75" fill="#2a2a2a" stroke="#2a2a2a" stroke-width="0.14">0.86</text>
<text x="190.9" y="203.35" text-anchor="end" font-size="4.75" fill="#2a2a2a" stroke="#2a2a2a" stroke-width="0.14">0.87</text>
<text x="190.9" y="176.3" text-anchor="end" font-size="4.75" fill="#2a2a2a" stroke="#2a2a2a" stroke-width="0.14">0.88</text>
<text x="190.9" y="149.25" text-anchor="end" font-size="4.75" fill="#2a2a2a" stroke="#2a2a2a" stroke-width="0.14">0.89</text>
<text x="215.5" y="261.7" text-anchor="middle" font-size="4.8" fill="#2a2a2a" stroke="#2a2a2a" stroke-width="0.14">PRE</text>
<text x="243.3" y="261.7" text-anchor="middle" font-size="4.8" fill="#2a2a2a" stroke="#2a2a2a" stroke-width="0.14">POST</text>
<path d="M221.2 162.3C221.5 164.42 222.38 170.05 223 175C223.62 179.95 224.38 187.5 224.9 192C225.42 196.5 226.17 198.67 226.1 202C226.03 205.33 225.15 208.83 224.5 212C223.85 215.17 222.87 218.5 222.2 221C221.53 223.5 221.13 225.47 220.5 227C219.87 228.53 218.75 229.67 218.4 230.2L212 230.2C211.65 229.67 210.53 228.53 209.9 227C209.27 225.47 208.87 223.5 208.2 221C207.53 218.5 206.55 215.17 205.9 212C205.25 208.83 204.37 205.33 204.3 202C204.23 198.67 204.98 196.5 205.5 192C206.02 187.5 206.78 179.95 207.4 175C208.02 170.05 208.9 164.42 209.2 162.3Z" fill="none" stroke="#595959" stroke-width="0.6"/>
<path d="M204.7 198.7H225.7" stroke="#777" stroke-width="0.55" stroke-dasharray="1.6 1.0"/>
<circle cx="209.6" cy="162.3" r="1.38" fill="none" stroke="#3a88e6" stroke-width="0.75"/>
<circle cx="215.2" cy="163.7" r="1.38" fill="none" stroke="#3a88e6" stroke-width="0.75"/>
<circle cx="220.9" cy="164.9" r="1.38" fill="none" stroke="#3a88e6" stroke-width="0.75"/>
<circle cx="220.9" cy="168" r="1.38" fill="none" stroke="#3a88e6" stroke-width="0.75"/>
<circle cx="215.2" cy="170.5" r="1.38" fill="none" stroke="#3a88e6" stroke-width="0.75"/>
<circle cx="215.2" cy="178.2" r="1.38" fill="none" stroke="#3a88e6" stroke-width="0.75"/>
<circle cx="209.9" cy="183.9" r="1.38" fill="none" stroke="#3a88e6" stroke-width="0.75"/>
<circle cx="215.2" cy="186.3" r="1.38" fill="none" stroke="#3a88e6" stroke-width="0.75"/>
<circle cx="220.9" cy="185.7" r="1.38" fill="none" stroke="#3a88e6" stroke-width="0.75"/>
<circle cx="215.2" cy="190.4" r="1.38" fill="none" stroke="#3a88e6" stroke-width="0.75"/>
<circle cx="209.6" cy="198.5" r="1.38" fill="none" stroke="#3a88e6" stroke-width="0.75"/>
<circle cx="209.6" cy="203" r="1.38" fill="none" stroke="#3a88e6" stroke-width="0.75"/>
<circle cx="215.2" cy="200.1" r="1.38" fill="none" stroke="#3a88e6" stroke-width="0.75"/>
<circle cx="215.2" cy="204.1" r="1.38" fill="none" stroke="#3a88e6" stroke-width="0.75"/>
<circle cx="215.2" cy="206.9" r="1.38" fill="none" stroke="#3a88e6" stroke-width="0.75"/>
<circle cx="220.9" cy="197.3" r="1.38" fill="none" stroke="#3a88e6" stroke-width="0.75"/>
<circle cx="220.9" cy="202" r="1.38" fill="none" stroke="#3a88e6" stroke-width="0.75"/>
<circle cx="209.6" cy="210.4" r="1.38" fill="none" stroke="#3a88e6" stroke-width="0.75"/>
<circle cx="209.6" cy="215.1" r="1.38" fill="none" stroke="#3a88e6" stroke-width="0.75"/>
<circle cx="215.2" cy="212.3" r="1.38" fill="none" stroke="#3a88e6" stroke-width="0.75"/>
<circle cx="215.2" cy="217.5" r="1.38" fill="none" stroke="#3a88e6" stroke-width="0.75"/>
<circle cx="220.9" cy="216.5" r="1.38" fill="none" stroke="#3a88e6" stroke-width="0.75"/>
<circle cx="215.2" cy="230.2" r="1.38" fill="none" stroke="#3a88e6" stroke-width="0.75"/>
<path d="M246.9 180.4C247.18 181.17 248.02 183.4 248.6 185C249.18 186.6 249.77 188.17 250.4 190C251.03 191.83 251.87 193.83 252.4 196C252.93 198.17 253.6 200.67 253.6 203C253.6 205.33 253.03 207.5 252.4 210C251.77 212.5 250.67 215.17 249.8 218C248.93 220.83 247.92 224.67 247.2 227C246.48 229.33 246.07 230.37 245.5 232C244.93 233.63 244.08 236 243.8 236.8L242.2 236.8C241.92 236 241.07 233.63 240.5 232C239.93 230.37 239.52 229.33 238.8 227C238.08 224.67 237.07 220.83 236.2 218C235.33 215.17 234.23 212.5 233.6 210C232.97 207.5 232.4 205.33 232.4 203C232.4 200.67 233.07 198.17 233.6 196C234.13 193.83 234.97 191.83 235.6 190C236.23 188.17 236.82 186.6 237.4 185C237.98 183.4 238.82 181.17 239.1 180.4Z" fill="none" stroke="#595959" stroke-width="0.6"/>
<path d="M232.5 202.4H253.5" stroke="#777" stroke-width="0.55" stroke-dasharray="1.6 1.0"/>
<circle cx="240.6" cy="180.6" r="1.38" fill="none" stroke="#e82e38" stroke-width="0.75"/>
<circle cx="245.8" cy="183.2" r="1.38" fill="none" stroke="#e82e38" stroke-width="0.75"/>
<circle cx="240.6" cy="184.9" r="1.38" fill="none" stroke="#e82e38" stroke-width="0.75"/>
<circle cx="240.6" cy="188.1" r="1.38" fill="none" stroke="#e82e38" stroke-width="0.75"/>
<circle cx="245.8" cy="187.4" r="1.38" fill="none" stroke="#e82e38" stroke-width="0.75"/>
<circle cx="235" cy="198.2" r="1.38" fill="none" stroke="#e82e38" stroke-width="0.75"/>
<circle cx="235" cy="202.4" r="1.38" fill="none" stroke="#e82e38" stroke-width="0.75"/>
<circle cx="240.6" cy="197.3" r="1.38" fill="none" stroke="#e82e38" stroke-width="0.75"/>
<circle cx="240.6" cy="200.6" r="1.38" fill="none" stroke="#e82e38" stroke-width="0.75"/>
<circle cx="240.6" cy="204.1" r="1.38" fill="none" stroke="#e82e38" stroke-width="0.75"/>
<circle cx="245.8" cy="203" r="1.38" fill="none" stroke="#e82e38" stroke-width="0.75"/>
<circle cx="251.5" cy="198.2" r="1.38" fill="none" stroke="#e82e38" stroke-width="0.75"/>
<circle cx="251.5" cy="201.5" r="1.38" fill="none" stroke="#e82e38" stroke-width="0.75"/>
<circle cx="235" cy="209" r="1.38" fill="none" stroke="#e82e38" stroke-width="0.75"/>
<circle cx="240.6" cy="211.1" r="1.38" fill="none" stroke="#e82e38" stroke-width="0.75"/>
<circle cx="245.8" cy="210.8" r="1.38" fill="none" stroke="#e82e38" stroke-width="0.75"/>
<circle cx="245.8" cy="214.6" r="1.38" fill="none" stroke="#e82e38" stroke-width="0.75"/>
<circle cx="251.5" cy="208.6" r="1.38" fill="none" stroke="#e82e38" stroke-width="0.75"/>
<circle cx="240.6" cy="216.5" r="1.38" fill="none" stroke="#e82e38" stroke-width="0.75"/>
<circle cx="245.8" cy="218.9" r="1.38" fill="none" stroke="#e82e38" stroke-width="0.75"/>
<circle cx="240.6" cy="221.3" r="1.38" fill="none" stroke="#e82e38" stroke-width="0.75"/>
<circle cx="245.8" cy="222.1" r="1.38" fill="none" stroke="#e82e38" stroke-width="0.75"/>
<circle cx="243" cy="236.8" r="1.38" fill="none" stroke="#e82e38" stroke-width="0.75"/>
<path d="M297.4 147.2V256" fill="none" stroke="#7a7a7a" stroke-width="0.6"/>
<path d="M297.4 256H370" fill="none" stroke="#bcbcbc" stroke-width="1"/>
<path d="M297.4 255.4h-1.6M297.4 228.35h-1.6M297.4 201.3h-1.6M297.4 174.25h-1.6M297.4 147.2h-1.6M319.9 255.4v1.1M347.7 255.4v1.1" stroke="#7a7a7a" stroke-width="0.5"/>
<text x="295.3" y="257.45" text-anchor="end" font-size="4.75" fill="#2a2a2a" stroke="#2a2a2a" stroke-width="0.14">1.40</text>
<text x="295.3" y="230.4" text-anchor="end" font-size="4.75" fill="#2a2a2a" stroke="#2a2a2a" stroke-width="0.14">1.45</text>
<text x="295.3" y="203.35" text-anchor="end" font-size="4.75" fill="#2a2a2a" stroke="#2a2a2a" stroke-width="0.14">1.50</text>
<text x="295.3" y="176.3" text-anchor="end" font-size="4.75" fill="#2a2a2a" stroke="#2a2a2a" stroke-width="0.14">1.55</text>
<text x="295.3" y="149.25" text-anchor="end" font-size="4.75" fill="#2a2a2a" stroke="#2a2a2a" stroke-width="0.14">1.60</text>
<text x="319.9" y="261.7" text-anchor="middle" font-size="4.8" fill="#2a2a2a" stroke="#2a2a2a" stroke-width="0.14">PRE</text>
<text x="347.7" y="261.7" text-anchor="middle" font-size="4.8" fill="#2a2a2a" stroke="#2a2a2a" stroke-width="0.14">POST</text>
<path d="M323.3 219.6C323.78 220 324.93 220.93 326.2 222C327.47 223.07 330.55 224.83 330.9 226C331.25 227.17 329.2 227.83 328.3 229C327.4 230.17 326.27 231.67 325.5 233C324.73 234.33 324.1 235.67 323.7 237C323.3 238.33 323.2 239.33 323.1 241C323 242.67 323.23 245.5 323.1 247C322.97 248.5 322.7 249.3 322.3 250C321.9 250.7 320.97 251 320.7 251.2L318.7 251.2C318.43 251 317.5 250.7 317.1 250C316.7 249.3 316.43 248.5 316.3 247C316.17 245.5 316.4 242.67 316.3 241C316.2 239.33 316.1 238.33 315.7 237C315.3 235.67 314.67 234.33 313.9 233C313.13 231.67 312 230.17 311.1 229C310.2 227.83 308.15 227.17 308.5 226C308.85 224.83 311.93 223.07 313.2 222C314.47 220.93 315.62 220 316.1 219.6Z" fill="none" stroke="#595959" stroke-width="0.6"/>
<circle cx="318.8" cy="220.2" r="1.38" fill="none" stroke="#3a88e6" stroke-width="0.75"/>
<circle cx="320.2" cy="222.6" r="1.38" fill="none" stroke="#3a88e6" stroke-width="0.75"/>
<circle cx="310.4" cy="226.4" r="1.38" fill="none" stroke="#3a88e6" stroke-width="0.75"/>
<circle cx="312.5" cy="226.4" r="1.38" fill="none" stroke="#3a88e6" stroke-width="0.75"/>
<circle cx="315.3" cy="227.3" r="1.38" fill="none" stroke="#3a88e6" stroke-width="0.75"/>
<circle cx="317.4" cy="226" r="1.38" fill="none" stroke="#3a88e6" stroke-width="0.75"/>
<circle cx="320.2" cy="226" r="1.38" fill="none" stroke="#3a88e6" stroke-width="0.75"/>
<circle cx="322.4" cy="226.1" r="1.38" fill="none" stroke="#3a88e6" stroke-width="0.75"/>
<circle cx="324.5" cy="227.3" r="1.38" fill="none" stroke="#3a88e6" stroke-width="0.75"/>
<circle cx="326.6" cy="226.4" r="1.38" fill="none" stroke="#3a88e6" stroke-width="0.75"/>
<circle cx="329.4" cy="226.8" r="1.38" fill="none" stroke="#3a88e6" stroke-width="0.75"/>
<circle cx="321.2" cy="229.6" r="1.38" fill="none" stroke="#3a88e6" stroke-width="0.75"/>
<circle cx="320.2" cy="232.5" r="1.38" fill="none" stroke="#3a88e6" stroke-width="0.75"/>
<circle cx="317.4" cy="235.5" r="1.38" fill="none" stroke="#3a88e6" stroke-width="0.75"/>
<circle cx="319.3" cy="237.5" r="1.38" fill="none" stroke="#3a88e6" stroke-width="0.75"/>
<circle cx="318.8" cy="239.5" r="1.38" fill="none" stroke="#3a88e6" stroke-width="0.75"/>
<circle cx="318.1" cy="244.3" r="1.38" fill="none" stroke="#3a88e6" stroke-width="0.75"/>
<circle cx="321" cy="245" r="1.38" fill="none" stroke="#3a88e6" stroke-width="0.75"/>
<circle cx="318.1" cy="247.8" r="1.38" fill="none" stroke="#3a88e6" stroke-width="0.75"/>
<circle cx="318.1" cy="250.2" r="1.38" fill="none" stroke="#3a88e6" stroke-width="0.75"/>
<circle cx="314" cy="228.4" r="1.38" fill="none" stroke="#3a88e6" stroke-width="0.75"/>
<circle cx="324.8" cy="228.6" r="1.38" fill="none" stroke="#3a88e6" stroke-width="0.75"/>
<path d="M348.3 177C348.3 180.83 348.28 193.83 348.3 200C348.32 206.17 348.1 211 348.4 214C348.7 217 349.1 216.67 350.1 218C351.1 219.33 352.83 220.58 354.4 222C355.97 223.42 359.08 225.33 359.5 226.5C359.92 227.67 358.13 228 356.9 229C355.67 230 353.1 231.5 352.1 232.5C351.1 233.5 351.1 234.08 350.9 235C350.7 235.92 351.2 237.17 350.9 238C350.6 238.83 349.4 239.67 349.1 240L346.7 240C346.4 239.67 345.2 238.83 344.9 238C344.6 237.17 345.1 235.92 344.9 235C344.7 234.08 344.7 233.5 343.7 232.5C342.7 231.5 340.13 230 338.9 229C337.67 228 335.88 227.67 336.3 226.5C336.72 225.33 339.83 223.42 341.4 222C342.97 220.58 344.7 219.33 345.7 218C346.7 216.67 347.1 217 347.4 214C347.7 211 347.48 206.17 347.5 200C347.52 193.83 347.5 180.83 347.5 177Z" fill="none" stroke="#595959" stroke-width="0.6"/>
<circle cx="347.4" cy="177" r="1.38" fill="none" stroke="#e82e38" stroke-width="0.75"/>
<circle cx="347.7" cy="216.6" r="1.38" fill="none" stroke="#e82e38" stroke-width="0.75"/>
<circle cx="347.9" cy="219.2" r="1.38" fill="none" stroke="#e82e38" stroke-width="0.75"/>
<circle cx="345.6" cy="223" r="1.38" fill="none" stroke="#e82e38" stroke-width="0.75"/>
<circle cx="349.3" cy="222.6" r="1.38" fill="none" stroke="#e82e38" stroke-width="0.75"/>
<circle cx="338.5" cy="226.6" r="1.38" fill="none" stroke="#e82e38" stroke-width="0.75"/>
<circle cx="341.5" cy="226.3" r="1.38" fill="none" stroke="#e82e38" stroke-width="0.75"/>
<circle cx="344.5" cy="226.6" r="1.38" fill="none" stroke="#e82e38" stroke-width="0.75"/>
<circle cx="347.5" cy="226.3" r="1.38" fill="none" stroke="#e82e38" stroke-width="0.75"/>
<circle cx="350.5" cy="226.6" r="1.38" fill="none" stroke="#e82e38" stroke-width="0.75"/>
<circle cx="353.5" cy="226.3" r="1.38" fill="none" stroke="#e82e38" stroke-width="0.75"/>
<circle cx="356.5" cy="226.6" r="1.38" fill="none" stroke="#e82e38" stroke-width="0.75"/>
<circle cx="357.8" cy="224.6" r="1.38" fill="none" stroke="#e82e38" stroke-width="0.75"/>
<circle cx="340.2" cy="228.6" r="1.38" fill="none" stroke="#e82e38" stroke-width="0.75"/>
<circle cx="343.2" cy="228.8" r="1.38" fill="none" stroke="#e82e38" stroke-width="0.75"/>
<circle cx="346.2" cy="228.6" r="1.38" fill="none" stroke="#e82e38" stroke-width="0.75"/>
<circle cx="349.2" cy="228.8" r="1.38" fill="none" stroke="#e82e38" stroke-width="0.75"/>
<circle cx="352.2" cy="228.6" r="1.38" fill="none" stroke="#e82e38" stroke-width="0.75"/>
<circle cx="355.2" cy="228.6" r="1.38" fill="none" stroke="#e82e38" stroke-width="0.75"/>
<circle cx="346.3" cy="237" r="1.38" fill="none" stroke="#e82e38" stroke-width="0.75"/>
<circle cx="349" cy="237" r="1.38" fill="none" stroke="#e82e38" stroke-width="0.75"/>
<circle cx="347.6" cy="239" r="1.38" fill="none" stroke="#e82e38" stroke-width="0.75"/>
<path d="M385.6 147.2V255.4" fill="none" stroke="#7a7a7a" stroke-width="0.6"/>
<path d="M385.6 255.4H458.2" fill="none" stroke="#7a7a7a" stroke-width="0.6"/>
<path d="M385.6 255.4h-1.6M385.6 219.33h-1.6M385.6 183.27h-1.6M385.6 147.2h-1.6M408.1 255.4v1.1M435.9 255.4v1.1" stroke="#7a7a7a" stroke-width="0.5"/>
<text x="383.5" y="257.45" text-anchor="end" font-size="4.75" fill="#2a2a2a" stroke="#2a2a2a" stroke-width="0.14">1.7</text>
<text x="383.5" y="221.38" text-anchor="end" font-size="4.75" fill="#2a2a2a" stroke="#2a2a2a" stroke-width="0.14">1.8</text>
<text x="383.5" y="185.32" text-anchor="end" font-size="4.75" fill="#2a2a2a" stroke="#2a2a2a" stroke-width="0.14">1.9</text>
<text x="383.5" y="149.25" text-anchor="end" font-size="4.75" fill="#2a2a2a" stroke="#2a2a2a" stroke-width="0.14">2.0</text>
<text x="408.1" y="261.7" text-anchor="middle" font-size="4.8" fill="#2a2a2a" stroke="#2a2a2a" stroke-width="0.14">PRE</text>
<text x="435.9" y="261.7" text-anchor="middle" font-size="4.8" fill="#2a2a2a" stroke="#2a2a2a" stroke-width="0.14">POST</text>
<path d="M409.9 156.3C409.83 156.92 409.7 158.72 409.5 160C409.3 161.28 408.93 162.67 408.7 164C408.47 165.33 408.24 164.67 408.15 168C408.06 171.33 407.97 180.83 408.15 184C408.32 187.17 408.77 186 409.2 187C409.62 188 410.03 188.67 410.7 190C411.37 191.33 412.32 193.33 413.2 195C414.08 196.67 415.1 197.67 416 200C416.9 202.33 418.35 206.33 418.6 209C418.85 211.67 417.95 213.83 417.5 216C417.05 218.17 416.55 219.67 415.9 222C415.25 224.33 414.47 227.67 413.6 230C412.73 232.33 411.47 234.33 410.7 236C409.93 237.67 409.35 238.33 409 240C408.65 241.67 408.72 244.17 408.6 246C408.48 247.83 408.35 250.17 408.3 251L407.1 251C407.05 250.17 406.92 247.83 406.8 246C406.68 244.17 406.75 241.67 406.4 240C406.05 238.33 405.47 237.67 404.7 236C403.93 234.33 402.67 232.33 401.8 230C400.93 227.67 400.15 224.33 399.5 222C398.85 219.67 398.35 218.17 397.9 216C397.45 213.83 396.55 211.67 396.8 209C397.05 206.33 398.5 202.33 399.4 200C400.3 197.67 401.32 196.67 402.2 195C403.08 193.33 404.03 191.33 404.7 190C405.37 188.67 405.77 188 406.2 187C406.62 186 407.07 187.17 407.25 184C407.43 180.83 407.34 171.33 407.25 168C407.16 164.67 406.93 165.33 406.7 164C406.47 162.67 406.1 161.28 405.9 160C405.7 158.72 405.57 156.92 405.5 156.3Z" fill="none" stroke="#595959" stroke-width="0.6"/>
<path d="M397.15 207.8H418.25" stroke="#777" stroke-width="0.55" stroke-dasharray="1.6 1.0"/>
<circle cx="407.5" cy="156.6" r="1.38" fill="none" stroke="#3a88e6" stroke-width="0.75"/>
<circle cx="407.5" cy="159.6" r="1.38" fill="none" stroke="#3a88e6" stroke-width="0.75"/>
<circle cx="407.5" cy="163.4" r="1.38" fill="none" stroke="#3a88e6" stroke-width="0.75"/>
<circle cx="405.4" cy="196" r="1.38" fill="none" stroke="#3a88e6" stroke-width="0.75"/>
<circle cx="410.6" cy="195.1" r="1.38" fill="none" stroke="#3a88e6" stroke-width="0.75"/>
<circle cx="410.6" cy="198.4" r="1.38" fill="none" stroke="#3a88e6" stroke-width="0.75"/>
<circle cx="407.8" cy="201.2" r="1.38" fill="none" stroke="#3a88e6" stroke-width="0.75"/>
<circle cx="399.8" cy="205.8" r="1.38" fill="none" stroke="#3a88e6" stroke-width="0.75"/>
<circle cx="399.8" cy="209" r="1.38" fill="none" stroke="#3a88e6" stroke-width="0.75"/>
<circle cx="405.4" cy="207.5" r="1.38" fill="none" stroke="#3a88e6" stroke-width="0.75"/>
<circle cx="410.6" cy="206.4" r="1.38" fill="none" stroke="#3a88e6" stroke-width="0.75"/>
<circle cx="416" cy="205.8" r="1.38" fill="none" stroke="#3a88e6" stroke-width="0.75"/>
<circle cx="416" cy="209" r="1.38" fill="none" stroke="#3a88e6" stroke-width="0.75"/>
<circle cx="399.8" cy="213.2" r="1.38" fill="none" stroke="#3a88e6" stroke-width="0.75"/>
<circle cx="405.4" cy="212.5" r="1.38" fill="none" stroke="#3a88e6" stroke-width="0.75"/>
<circle cx="405.4" cy="215.7" r="1.38" fill="none" stroke="#3a88e6" stroke-width="0.75"/>
<circle cx="410.6" cy="214.9" r="1.38" fill="none" stroke="#3a88e6" stroke-width="0.75"/>
<circle cx="416" cy="213.2" r="1.38" fill="none" stroke="#3a88e6" stroke-width="0.75"/>
<circle cx="416" cy="216.3" r="1.38" fill="none" stroke="#3a88e6" stroke-width="0.75"/>
<circle cx="407.8" cy="219.8" r="1.38" fill="none" stroke="#3a88e6" stroke-width="0.75"/>
<circle cx="402.2" cy="230" r="1.38" fill="none" stroke="#3a88e6" stroke-width="0.75"/>
<circle cx="407.8" cy="231" r="1.38" fill="none" stroke="#3a88e6" stroke-width="0.75"/>
<circle cx="413.2" cy="231" r="1.38" fill="none" stroke="#3a88e6" stroke-width="0.75"/>
<circle cx="407.8" cy="250.1" r="1.38" fill="none" stroke="#3a88e6" stroke-width="0.75"/>
<path d="M437.2 160.6C437.13 161.33 436.77 163.43 436.8 165C436.83 166.57 436.82 168.17 437.4 170C437.98 171.83 439.37 174 440.3 176C441.23 178 442.33 180.17 443 182C443.67 183.83 443.78 184.83 444.3 187C444.82 189.17 445.68 192 446.1 195C446.52 198 446.75 201.67 446.8 205C446.85 208.33 446.67 212.5 446.4 215C446.13 217.5 446.08 218.52 445.2 220C444.32 221.48 441.78 223.25 441.1 223.9L430.5 223.9C429.82 223.25 427.28 221.48 426.4 220C425.52 218.52 425.47 217.5 425.2 215C424.93 212.5 424.75 208.33 424.8 205C424.85 201.67 425.08 198 425.5 195C425.92 192 426.78 189.17 427.3 187C427.82 184.83 427.93 183.83 428.6 182C429.27 180.17 430.37 178 431.3 176C432.23 174 433.62 171.83 434.2 170C434.78 168.17 434.77 166.57 434.8 165C434.83 163.43 434.47 161.33 434.4 160.6Z" fill="none" stroke="#595959" stroke-width="0.6"/>
<path d="M425.26 198.4H446.34" stroke="#777" stroke-width="0.55" stroke-dasharray="1.6 1.0"/>
<circle cx="435.7" cy="160.6" r="1.38" fill="none" stroke="#e82e38" stroke-width="0.75"/>
<circle cx="432.6" cy="183.5" r="1.38" fill="none" stroke="#e82e38" stroke-width="0.75"/>
<circle cx="434.3" cy="185.9" r="1.38" fill="none" stroke="#e82e38" stroke-width="0.75"/>
<circle cx="438.2" cy="181.7" r="1.38" fill="none" stroke="#e82e38" stroke-width="0.75"/>
<circle cx="436" cy="187.5" r="1.38" fill="none" stroke="#e82e38" stroke-width="0.75"/>
<circle cx="427.3" cy="191.3" r="1.38" fill="none" stroke="#e82e38" stroke-width="0.75"/>
<circle cx="438.2" cy="192.3" r="1.38" fill="none" stroke="#e82e38" stroke-width="0.75"/>
<circle cx="438.2" cy="195.1" r="1.38" fill="none" stroke="#e82e38" stroke-width="0.75"/>
<circle cx="444.2" cy="189.9" r="1.38" fill="none" stroke="#e82e38" stroke-width="0.75"/>
<circle cx="444.2" cy="193.5" r="1.38" fill="none" stroke="#e82e38" stroke-width="0.75"/>
<circle cx="444.2" cy="197.4" r="1.38" fill="none" stroke="#e82e38" stroke-width="0.75"/>
<circle cx="427.3" cy="198" r="1.38" fill="none" stroke="#e82e38" stroke-width="0.75"/>
<circle cx="432.9" cy="196.3" r="1.38" fill="none" stroke="#e82e38" stroke-width="0.75"/>
<circle cx="432.9" cy="199.4" r="1.38" fill="none" stroke="#e82e38" stroke-width="0.75"/>
<circle cx="435.7" cy="204.7" r="1.38" fill="none" stroke="#e82e38" stroke-width="0.75"/>
<circle cx="427.3" cy="210.4" r="1.38" fill="none" stroke="#e82e38" stroke-width="0.75"/>
<circle cx="432.9" cy="211.5" r="1.38" fill="none" stroke="#e82e38" stroke-width="0.75"/>
<circle cx="438.2" cy="210.6" r="1.38" fill="none" stroke="#e82e38" stroke-width="0.75"/>
<circle cx="443.9" cy="211.5" r="1.38" fill="none" stroke="#e82e38" stroke-width="0.75"/>
<circle cx="427.3" cy="215.3" r="1.38" fill="none" stroke="#e82e38" stroke-width="0.75"/>
<circle cx="432.9" cy="216.3" r="1.38" fill="none" stroke="#e82e38" stroke-width="0.75"/>
<circle cx="438.2" cy="215.7" r="1.38" fill="none" stroke="#e82e38" stroke-width="0.75"/>
<circle cx="443.9" cy="216.3" r="1.38" fill="none" stroke="#e82e38" stroke-width="0.75"/>
<circle cx="435.7" cy="223.9" r="1.38" fill="none" stroke="#e82e38" stroke-width="0.75"/>
<path d="M489.4 147.2V255.4" fill="none" stroke="#7a7a7a" stroke-width="0.6"/>
<path d="M489.4 255.4H562" fill="none" stroke="#7a7a7a" stroke-width="0.6"/>
<path d="M489.4 255.4h-1.6M489.4 219.33h-1.6M489.4 183.27h-1.6M489.4 147.2h-1.6M511.9 255.4v1.1M539.7 255.4v1.1" stroke="#7a7a7a" stroke-width="0.5"/>
<text x="487.3" y="257.45" text-anchor="end" font-size="4.75" fill="#2a2a2a" stroke="#2a2a2a" stroke-width="0.14">1.2</text>
<text x="487.3" y="221.38" text-anchor="end" font-size="4.75" fill="#2a2a2a" stroke="#2a2a2a" stroke-width="0.14">1.4</text>
<text x="487.3" y="185.32" text-anchor="end" font-size="4.75" fill="#2a2a2a" stroke="#2a2a2a" stroke-width="0.14">1.6</text>
<text x="487.3" y="149.25" text-anchor="end" font-size="4.75" fill="#2a2a2a" stroke="#2a2a2a" stroke-width="0.14">1.8</text>
<text x="511.9" y="261.7" text-anchor="middle" font-size="4.8" fill="#2a2a2a" stroke="#2a2a2a" stroke-width="0.14">PRE</text>
<text x="539.7" y="261.7" text-anchor="middle" font-size="4.8" fill="#2a2a2a" stroke="#2a2a2a" stroke-width="0.14">POST</text>
<path d="M514.4 163.5C514.85 164.92 516.22 168.92 517.1 172C517.98 175.08 519 178.67 519.7 182C520.4 185.33 520.87 189 521.3 192C521.73 195 522.08 197 522.3 200C522.52 203 522.6 206.67 522.6 210C522.6 213.33 522.53 216.67 522.3 220C522.07 223.33 521.67 226.67 521.2 230C520.73 233.33 519.97 237.5 519.5 240C519.03 242.5 518.67 243.5 518.4 245C518.13 246.5 517.98 248.33 517.9 249L505.9 249C505.82 248.33 505.67 246.5 505.4 245C505.13 243.5 504.77 242.5 504.3 240C503.83 237.5 503.07 233.33 502.6 230C502.13 226.67 501.73 223.33 501.5 220C501.27 216.67 501.2 213.33 501.2 210C501.2 206.67 501.28 203 501.5 200C501.72 197 502.07 195 502.5 192C502.93 189 503.4 185.33 504.1 182C504.8 178.67 505.82 175.08 506.7 172C507.58 168.92 508.95 164.92 509.4 163.5Z" fill="none" stroke="#595959" stroke-width="0.6"/>
<path d="M501.24 211.4H522.56" stroke="#777" stroke-width="0.55" stroke-dasharray="1.6 1.0"/>
<circle cx="511.8" cy="163.5" r="1.38" fill="none" stroke="#3a88e6" stroke-width="0.75"/>
<circle cx="511.8" cy="176.4" r="1.38" fill="none" stroke="#3a88e6" stroke-width="0.75"/>
<circle cx="511.8" cy="180.1" r="1.38" fill="none" stroke="#3a88e6" stroke-width="0.75"/>
<circle cx="511.8" cy="185.7" r="1.38" fill="none" stroke="#3a88e6" stroke-width="0.75"/>
<circle cx="509.4" cy="191.6" r="1.38" fill="none" stroke="#3a88e6" stroke-width="0.75"/>
<circle cx="514.6" cy="193.5" r="1.38" fill="none" stroke="#3a88e6" stroke-width="0.75"/>
<circle cx="514.6" cy="198.7" r="1.38" fill="none" stroke="#3a88e6" stroke-width="0.75"/>
<circle cx="509.4" cy="201" r="1.38" fill="none" stroke="#3a88e6" stroke-width="0.75"/>
<circle cx="520" cy="199.2" r="1.38" fill="none" stroke="#3a88e6" stroke-width="0.75"/>
<circle cx="503.8" cy="210.8" r="1.38" fill="none" stroke="#3a88e6" stroke-width="0.75"/>
<circle cx="509.4" cy="211.4" r="1.38" fill="none" stroke="#3a88e6" stroke-width="0.75"/>
<circle cx="514.6" cy="211.8" r="1.38" fill="none" stroke="#3a88e6" stroke-width="0.75"/>
<circle cx="520" cy="209.4" r="1.38" fill="none" stroke="#3a88e6" stroke-width="0.75"/>
<circle cx="511.8" cy="216.8" r="1.38" fill="none" stroke="#3a88e6" stroke-width="0.75"/>
<circle cx="509.4" cy="223.5" r="1.38" fill="none" stroke="#3a88e6" stroke-width="0.75"/>
<circle cx="514.6" cy="224.5" r="1.38" fill="none" stroke="#3a88e6" stroke-width="0.75"/>
<circle cx="511.8" cy="230.5" r="1.38" fill="none" stroke="#3a88e6" stroke-width="0.75"/>
<circle cx="509.4" cy="235.4" r="1.38" fill="none" stroke="#3a88e6" stroke-width="0.75"/>
<circle cx="514.6" cy="234.7" r="1.38" fill="none" stroke="#3a88e6" stroke-width="0.75"/>
<circle cx="511.8" cy="243.4" r="1.38" fill="none" stroke="#3a88e6" stroke-width="0.75"/>
<circle cx="506.6" cy="249" r="1.38" fill="none" stroke="#3a88e6" stroke-width="0.75"/>
<circle cx="511.8" cy="248.1" r="1.38" fill="none" stroke="#3a88e6" stroke-width="0.75"/>
<circle cx="517.2" cy="249" r="1.38" fill="none" stroke="#3a88e6" stroke-width="0.75"/>
<path d="M544.7 206.6C544.78 207.83 545.02 211.6 545.2 214C545.38 216.4 545.4 218.83 545.8 221C546.2 223.17 547 225.17 547.6 227C548.2 228.83 549 230.5 549.4 232C549.8 233.5 549.98 234.33 550 236C550.02 237.67 550 240.1 549.5 242C549 243.9 547.42 246.5 547 247.4L533 247.4C532.58 246.5 531 243.9 530.5 242C530 240.1 529.98 237.67 530 236C530.02 234.33 530.2 233.5 530.6 232C531 230.5 531.8 228.83 532.4 227C533 225.17 533.8 223.17 534.2 221C534.6 218.83 534.62 216.4 534.8 214C534.98 211.6 535.22 207.83 535.3 206.6Z" fill="none" stroke="#595959" stroke-width="0.6"/>
<path d="M530.45 233H549.55" stroke="#777" stroke-width="0.55" stroke-dasharray="1.6 1.0"/>
<circle cx="531.5" cy="206.6" r="1.38" fill="none" stroke="#e82e38" stroke-width="0.75"/>
<circle cx="537.2" cy="207.2" r="1.38" fill="none" stroke="#e82e38" stroke-width="0.75"/>
<circle cx="542.5" cy="208" r="1.38" fill="none" stroke="#e82e38" stroke-width="0.75"/>
<circle cx="542.5" cy="212.5" r="1.38" fill="none" stroke="#e82e38" stroke-width="0.75"/>
<circle cx="537.2" cy="215.1" r="1.38" fill="none" stroke="#e82e38" stroke-width="0.75"/>
<circle cx="537.2" cy="219.3" r="1.38" fill="none" stroke="#e82e38" stroke-width="0.75"/>
<circle cx="542.5" cy="219.6" r="1.38" fill="none" stroke="#e82e38" stroke-width="0.75"/>
<circle cx="537.2" cy="224.5" r="1.38" fill="none" stroke="#e82e38" stroke-width="0.75"/>
<circle cx="542.5" cy="224.5" r="1.38" fill="none" stroke="#e82e38" stroke-width="0.75"/>
<circle cx="540" cy="228.3" r="1.38" fill="none" stroke="#e82e38" stroke-width="0.75"/>
<circle cx="537.2" cy="233" r="1.38" fill="none" stroke="#e82e38" stroke-width="0.75"/>
<circle cx="532" cy="235" r="1.38" fill="none" stroke="#e82e38" stroke-width="0.75"/>
<circle cx="542.5" cy="236.4" r="1.38" fill="none" stroke="#e82e38" stroke-width="0.75"/>
<circle cx="548.2" cy="233.5" r="1.38" fill="none" stroke="#e82e38" stroke-width="0.75"/>
<circle cx="548.2" cy="236.8" r="1.38" fill="none" stroke="#e82e38" stroke-width="0.75"/>
<circle cx="532" cy="240" r="1.38" fill="none" stroke="#e82e38" stroke-width="0.75"/>
<circle cx="537.2" cy="238.6" r="1.38" fill="none" stroke="#e82e38" stroke-width="0.75"/>
<circle cx="537.2" cy="242" r="1.38" fill="none" stroke="#e82e38" stroke-width="0.75"/>
<circle cx="532" cy="243.1" r="1.38" fill="none" stroke="#e82e38" stroke-width="0.75"/>
<circle cx="542.5" cy="242.4" r="1.38" fill="none" stroke="#e82e38" stroke-width="0.75"/>
<circle cx="542.5" cy="245.7" r="1.38" fill="none" stroke="#e82e38" stroke-width="0.75"/>
<circle cx="548.2" cy="241.7" r="1.38" fill="none" stroke="#e82e38" stroke-width="0.75"/>
<circle cx="537.2" cy="247.4" r="1.38" fill="none" stroke="#e82e38" stroke-width="0.75"/>
<path d="M578 147.2V256" fill="none" stroke="#bcbcbc" stroke-width="1"/>
<path d="M578 256H650.6" fill="none" stroke="#bcbcbc" stroke-width="1"/>
<path d="M578 255.4h-1.6M578 228.35h-1.6M578 201.3h-1.6M578 174.25h-1.6M578 147.2h-1.6M600.5 255.4v1.1M628.3 255.4v1.1" stroke="#7a7a7a" stroke-width="0.5"/>
<text x="575.9" y="257.45" text-anchor="end" font-size="4.75" fill="#2a2a2a" stroke="#2a2a2a" stroke-width="0.14">1.00</text>
<text x="575.9" y="230.4" text-anchor="end" font-size="4.75" fill="#2a2a2a" stroke="#2a2a2a" stroke-width="0.14">1.05</text>
<text x="575.9" y="203.35" text-anchor="end" font-size="4.75" fill="#2a2a2a" stroke="#2a2a2a" stroke-width="0.14">1.10</text>
<text x="575.9" y="176.3" text-anchor="end" font-size="4.75" fill="#2a2a2a" stroke="#2a2a2a" stroke-width="0.14">1.15</text>
<text x="575.9" y="149.25" text-anchor="end" font-size="4.75" fill="#2a2a2a" stroke="#2a2a2a" stroke-width="0.14">1.20</text>
<text x="600.5" y="261.7" text-anchor="middle" font-size="4.8" fill="#2a2a2a" stroke="#2a2a2a" stroke-width="0.14">PRE</text>
<text x="628.3" y="261.7" text-anchor="middle" font-size="4.8" fill="#2a2a2a" stroke="#2a2a2a" stroke-width="0.14">POST</text>
<path d="M603.15 164.1C603.64 165.42 605.14 169.35 606.1 172C607.06 174.65 608.13 177.5 608.9 180C609.67 182.5 610.28 184.5 610.7 187C611.12 189.5 611.37 192.5 611.4 195C611.43 197.5 611.28 199.17 610.9 202C610.52 204.83 609.75 208.67 609.1 212C608.45 215.33 607.5 219 607 222C606.5 225 606.3 227.8 606.1 230C605.9 232.2 605.85 234.33 605.8 235.2L594.8 235.2C594.75 234.33 594.7 232.2 594.5 230C594.3 227.8 594.1 225 593.6 222C593.1 219 592.15 215.33 591.5 212C590.85 208.67 590.08 204.83 589.7 202C589.32 199.17 589.17 197.5 589.2 195C589.23 192.5 589.48 189.5 589.9 187C590.32 184.5 590.93 182.5 591.7 180C592.47 177.5 593.54 174.65 594.5 172C595.46 169.35 596.96 165.42 597.45 164.1Z" fill="none" stroke="#595959" stroke-width="0.6"/>
<path d="M589.51 199.4H611.09" stroke="#777" stroke-width="0.55" stroke-dasharray="1.6 1.0"/>
<circle cx="600.3" cy="164.1" r="1.38" fill="none" stroke="#3a88e6" stroke-width="0.75"/>
<circle cx="600.3" cy="169" r="1.38" fill="none" stroke="#3a88e6" stroke-width="0.75"/>
<circle cx="600.3" cy="173.7" r="1.38" fill="none" stroke="#3a88e6" stroke-width="0.75"/>
<circle cx="600.3" cy="178.2" r="1.38" fill="none" stroke="#3a88e6" stroke-width="0.75"/>
<circle cx="590.4" cy="187.8" r="1.38" fill="none" stroke="#3a88e6" stroke-width="0.75"/>
<circle cx="595.2" cy="190.6" r="1.38" fill="none" stroke="#3a88e6" stroke-width="0.75"/>
<circle cx="600.3" cy="188.1" r="1.38" fill="none" stroke="#3a88e6" stroke-width="0.75"/>
<circle cx="600.3" cy="191.3" r="1.38" fill="none" stroke="#3a88e6" stroke-width="0.75"/>
<circle cx="600.3" cy="194.9" r="1.38" fill="none" stroke="#3a88e6" stroke-width="0.75"/>
<circle cx="605" cy="190.6" r="1.38" fill="none" stroke="#3a88e6" stroke-width="0.75"/>
<circle cx="610.1" cy="188.9" r="1.38" fill="none" stroke="#3a88e6" stroke-width="0.75"/>
<circle cx="595.2" cy="200.5" r="1.38" fill="none" stroke="#3a88e6" stroke-width="0.75"/>
<circle cx="600.3" cy="199.4" r="1.38" fill="none" stroke="#3a88e6" stroke-width="0.75"/>
<circle cx="600.3" cy="203" r="1.38" fill="none" stroke="#3a88e6" stroke-width="0.75"/>
<circle cx="605" cy="199.1" r="1.38" fill="none" stroke="#3a88e6" stroke-width="0.75"/>
<circle cx="600.3" cy="208.9" r="1.38" fill="none" stroke="#3a88e6" stroke-width="0.75"/>
<circle cx="595.2" cy="215.3" r="1.38" fill="none" stroke="#3a88e6" stroke-width="0.75"/>
<circle cx="600.3" cy="213.9" r="1.38" fill="none" stroke="#3a88e6" stroke-width="0.75"/>
<circle cx="600.3" cy="218.1" r="1.38" fill="none" stroke="#3a88e6" stroke-width="0.75"/>
<circle cx="600.3" cy="226.7" r="1.38" fill="none" stroke="#3a88e6" stroke-width="0.75"/>
<circle cx="600.3" cy="231.4" r="1.38" fill="none" stroke="#3a88e6" stroke-width="0.75"/>
<circle cx="605" cy="232.1" r="1.38" fill="none" stroke="#3a88e6" stroke-width="0.75"/>
<circle cx="595.2" cy="235.2" r="1.38" fill="none" stroke="#3a88e6" stroke-width="0.75"/>
<path d="M631.2 152.5C631.63 153.75 632.83 157.08 633.8 160C634.77 162.92 636.22 166.67 637 170C637.78 173.33 638.18 177.17 638.5 180C638.82 182.83 639.08 184.5 638.9 187C638.72 189.5 638.08 192 637.4 195C636.72 198 635.6 202 634.8 205C634 208 633.35 210.17 632.6 213C631.85 215.83 630.8 219.67 630.3 222C629.8 224.33 629.82 225.67 629.6 227C629.38 228.33 629.1 229.5 629 230L627.4 230C627.3 229.5 627.02 228.33 626.8 227C626.58 225.67 626.6 224.33 626.1 222C625.6 219.67 624.55 215.83 623.8 213C623.05 210.17 622.4 208 621.6 205C620.8 202 619.68 198 619 195C618.32 192 617.68 189.5 617.5 187C617.32 184.5 617.58 182.83 617.9 180C618.22 177.17 618.62 173.33 619.4 170C620.18 166.67 621.63 162.92 622.6 160C623.57 157.08 624.77 153.75 625.2 152.5Z" fill="none" stroke="#595959" stroke-width="0.6"/>
<path d="M617.68 183.8H638.72" stroke="#777" stroke-width="0.55" stroke-dasharray="1.6 1.0"/>
<circle cx="628" cy="152.5" r="1.38" fill="none" stroke="#e82e38" stroke-width="0.75"/>
<circle cx="628" cy="158.5" r="1.38" fill="none" stroke="#e82e38" stroke-width="0.75"/>
<circle cx="620" cy="166.6" r="1.38" fill="none" stroke="#e82e38" stroke-width="0.75"/>
<circle cx="625.6" cy="168" r="1.38" fill="none" stroke="#e82e38" stroke-width="0.75"/>
<circle cx="625.6" cy="171.1" r="1.38" fill="none" stroke="#e82e38" stroke-width="0.75"/>
<circle cx="625.6" cy="174.2" r="1.38" fill="none" stroke="#e82e38" stroke-width="0.75"/>
<circle cx="630.8" cy="168.3" r="1.38" fill="none" stroke="#e82e38" stroke-width="0.75"/>
<circle cx="630.8" cy="172.5" r="1.38" fill="none" stroke="#e82e38" stroke-width="0.75"/>
<circle cx="620" cy="178.2" r="1.38" fill="none" stroke="#e82e38" stroke-width="0.75"/>
<circle cx="636.5" cy="177.9" r="1.38" fill="none" stroke="#e82e38" stroke-width="0.75"/>
<circle cx="630.8" cy="180.3" r="1.38" fill="none" stroke="#e82e38" stroke-width="0.75"/>
<circle cx="620" cy="185.5" r="1.38" fill="none" stroke="#e82e38" stroke-width="0.75"/>
<circle cx="625.6" cy="184.5" r="1.38" fill="none" stroke="#e82e38" stroke-width="0.75"/>
<circle cx="630.8" cy="184.5" r="1.38" fill="none" stroke="#e82e38" stroke-width="0.75"/>
<circle cx="636.5" cy="184.5" r="1.38" fill="none" stroke="#e82e38" stroke-width="0.75"/>
<circle cx="625.6" cy="187.8" r="1.38" fill="none" stroke="#e82e38" stroke-width="0.75"/>
<circle cx="630.8" cy="189.9" r="1.38" fill="none" stroke="#e82e38" stroke-width="0.75"/>
<circle cx="625.6" cy="195.6" r="1.38" fill="none" stroke="#e82e38" stroke-width="0.75"/>
<circle cx="630.8" cy="197.4" r="1.38" fill="none" stroke="#e82e38" stroke-width="0.75"/>
<circle cx="625.6" cy="207.5" r="1.38" fill="none" stroke="#e82e38" stroke-width="0.75"/>
<circle cx="630.8" cy="207.3" r="1.38" fill="none" stroke="#e82e38" stroke-width="0.75"/>
<circle cx="630.8" cy="210.4" r="1.38" fill="none" stroke="#e82e38" stroke-width="0.75"/>
<circle cx="628" cy="230" r="1.38" fill="none" stroke="#e82e38" stroke-width="0.75"/>
<path d="M668 147.2V255.4" fill="none" stroke="#bcbcbc" stroke-width="1"/>
<path d="M668 255.4H740.6" fill="none" stroke="#7a7a7a" stroke-width="0.6"/>
<path d="M668 255.4h-1.6M668 219.33h-1.6M668 183.27h-1.6M668 147.2h-1.6M690.5 255.4v1.1M718.3 255.4v1.1" stroke="#7a7a7a" stroke-width="0.5"/>
<text x="665.9" y="257.45" text-anchor="end" font-size="4.75" fill="#2a2a2a" stroke="#2a2a2a" stroke-width="0.14">1.0</text>
<text x="665.9" y="221.38" text-anchor="end" font-size="4.75" fill="#2a2a2a" stroke="#2a2a2a" stroke-width="0.14">1.5</text>
<text x="665.9" y="185.32" text-anchor="end" font-size="4.75" fill="#2a2a2a" stroke="#2a2a2a" stroke-width="0.14">2.0</text>
<text x="665.9" y="149.25" text-anchor="end" font-size="4.75" fill="#2a2a2a" stroke="#2a2a2a" stroke-width="0.14">2.5</text>
<text x="690.5" y="261.7" text-anchor="middle" font-size="4.8" fill="#2a2a2a" stroke="#2a2a2a" stroke-width="0.14">PRE</text>
<text x="718.3" y="261.7" text-anchor="middle" font-size="4.8" fill="#2a2a2a" stroke="#2a2a2a" stroke-width="0.14">POST</text>
<path d="M693.2 191C693.45 191.83 694.17 194.5 694.7 196C695.23 197.5 695.68 198.5 696.4 200C697.12 201.5 698.25 202.5 699 205C699.75 207.5 700.63 211.83 700.9 215C701.17 218.17 700.75 221.67 700.6 224C700.45 226.33 700.47 227.8 700 229C699.53 230.2 698.17 230.83 697.8 231.2L682.6 231.2C682.23 230.83 680.87 230.2 680.4 229C679.93 227.8 679.95 226.33 679.8 224C679.65 221.67 679.23 218.17 679.5 215C679.77 211.83 680.65 207.5 681.4 205C682.15 202.5 683.28 201.5 684 200C684.72 198.5 685.17 197.5 685.7 196C686.23 194.5 686.95 191.83 687.2 191Z" fill="none" stroke="#595959" stroke-width="0.6"/>
<path d="M679.52 215.7H700.88" stroke="#777" stroke-width="0.55" stroke-dasharray="1.6 1.0"/>
<circle cx="687.4" cy="191" r="1.38" fill="none" stroke="#3a88e6" stroke-width="0.75"/>
<circle cx="693" cy="191" r="1.38" fill="none" stroke="#3a88e6" stroke-width="0.75"/>
<circle cx="682.2" cy="205.4" r="1.38" fill="none" stroke="#3a88e6" stroke-width="0.75"/>
<circle cx="687.4" cy="206.8" r="1.38" fill="none" stroke="#3a88e6" stroke-width="0.75"/>
<circle cx="687.4" cy="210" r="1.38" fill="none" stroke="#3a88e6" stroke-width="0.75"/>
<circle cx="693" cy="204.7" r="1.38" fill="none" stroke="#3a88e6" stroke-width="0.75"/>
<circle cx="693" cy="209.6" r="1.38" fill="none" stroke="#3a88e6" stroke-width="0.75"/>
<circle cx="693" cy="212.8" r="1.38" fill="none" stroke="#3a88e6" stroke-width="0.75"/>
<circle cx="698.3" cy="204.7" r="1.38" fill="none" stroke="#3a88e6" stroke-width="0.75"/>
<circle cx="698.3" cy="207.8" r="1.38" fill="none" stroke="#3a88e6" stroke-width="0.75"/>
<circle cx="682.2" cy="213.8" r="1.38" fill="none" stroke="#3a88e6" stroke-width="0.75"/>
<circle cx="687.4" cy="216" r="1.38" fill="none" stroke="#3a88e6" stroke-width="0.75"/>
<circle cx="687.4" cy="218.8" r="1.38" fill="none" stroke="#3a88e6" stroke-width="0.75"/>
<circle cx="693" cy="216" r="1.38" fill="none" stroke="#3a88e6" stroke-width="0.75"/>
<circle cx="698.3" cy="216" r="1.38" fill="none" stroke="#3a88e6" stroke-width="0.75"/>
<circle cx="687.4" cy="223.5" r="1.38" fill="none" stroke="#3a88e6" stroke-width="0.75"/>
<circle cx="693" cy="222.9" r="1.38" fill="none" stroke="#3a88e6" stroke-width="0.75"/>
<circle cx="682.2" cy="224.6" r="1.38" fill="none" stroke="#3a88e6" stroke-width="0.75"/>
<circle cx="698.3" cy="224" r="1.38" fill="none" stroke="#3a88e6" stroke-width="0.75"/>
<circle cx="682.2" cy="227.9" r="1.38" fill="none" stroke="#3a88e6" stroke-width="0.75"/>
<circle cx="693" cy="228.5" r="1.38" fill="none" stroke="#3a88e6" stroke-width="0.75"/>
<circle cx="682.2" cy="231.2" r="1.38" fill="none" stroke="#3a88e6" stroke-width="0.75"/>
<circle cx="698.3" cy="228.3" r="1.38" fill="none" stroke="#3a88e6" stroke-width="0.75"/>
<path d="M719.1 173.4C719.02 173.83 718.67 172.9 718.6 176C718.53 179.1 718.35 188.5 718.65 192C718.95 195.5 719.31 194.83 720.4 197C721.49 199.17 723.9 202.17 725.2 205C726.5 207.83 727.48 211.17 728.2 214C728.92 216.83 729.38 219.17 729.5 222C729.62 224.83 729.62 228.67 728.9 231C728.18 233.33 726.38 234.5 725.2 236C724.02 237.5 722.8 238.83 721.8 240C720.8 241.17 719.63 242.5 719.2 243L717.2 243C716.77 242.5 715.6 241.17 714.6 240C713.6 238.83 712.38 237.5 711.2 236C710.02 234.5 708.22 233.33 707.5 231C706.78 228.67 706.78 224.83 706.9 222C707.02 219.17 707.48 216.83 708.2 214C708.92 211.17 709.9 207.83 711.2 205C712.5 202.17 714.91 199.17 716 197C717.09 194.83 717.45 195.5 717.75 192C718.05 188.5 717.88 179.1 717.8 176C717.73 172.9 717.38 173.83 717.3 173.4Z" fill="none" stroke="#595959" stroke-width="0.6"/>
<path d="M707.01 221.3H729.39" stroke="#777" stroke-width="0.55" stroke-dasharray="1.6 1.0"/>
<circle cx="718" cy="173.4" r="1.38" fill="none" stroke="#e82e38" stroke-width="0.75"/>
<circle cx="713.2" cy="203" r="1.38" fill="none" stroke="#e82e38" stroke-width="0.75"/>
<circle cx="718" cy="204.4" r="1.38" fill="none" stroke="#e82e38" stroke-width="0.75"/>
<circle cx="718" cy="208.6" r="1.38" fill="none" stroke="#e82e38" stroke-width="0.75"/>
<circle cx="718" cy="211.7" r="1.38" fill="none" stroke="#e82e38" stroke-width="0.75"/>
<circle cx="708.1" cy="215.7" r="1.38" fill="none" stroke="#e82e38" stroke-width="0.75"/>
<circle cx="708.1" cy="219.5" r="1.38" fill="none" stroke="#e82e38" stroke-width="0.75"/>
<circle cx="713.2" cy="217.6" r="1.38" fill="none" stroke="#e82e38" stroke-width="0.75"/>
<circle cx="713.2" cy="221.3" r="1.38" fill="none" stroke="#e82e38" stroke-width="0.75"/>
<circle cx="718" cy="219" r="1.38" fill="none" stroke="#e82e38" stroke-width="0.75"/>
<circle cx="718" cy="222.7" r="1.38" fill="none" stroke="#e82e38" stroke-width="0.75"/>
<circle cx="723.1" cy="221.3" r="1.38" fill="none" stroke="#e82e38" stroke-width="0.75"/>
<circle cx="727.8" cy="218.8" r="1.38" fill="none" stroke="#e82e38" stroke-width="0.75"/>
<circle cx="708.1" cy="227.9" r="1.38" fill="none" stroke="#e82e38" stroke-width="0.75"/>
<circle cx="718" cy="227.2" r="1.38" fill="none" stroke="#e82e38" stroke-width="0.75"/>
<circle cx="727.8" cy="228.3" r="1.38" fill="none" stroke="#e82e38" stroke-width="0.75"/>
<circle cx="708.1" cy="231.9" r="1.38" fill="none" stroke="#e82e38" stroke-width="0.75"/>
<circle cx="713.2" cy="229.7" r="1.38" fill="none" stroke="#e82e38" stroke-width="0.75"/>
<circle cx="723.1" cy="231.2" r="1.38" fill="none" stroke="#e82e38" stroke-width="0.75"/>
<circle cx="727.8" cy="231.9" r="1.38" fill="none" stroke="#e82e38" stroke-width="0.75"/>
<circle cx="718" cy="233.3" r="1.38" fill="none" stroke="#e82e38" stroke-width="0.75"/>
<circle cx="718" cy="237.2" r="1.38" fill="none" stroke="#e82e38" stroke-width="0.75"/>
<circle cx="718" cy="240" r="1.38" fill="none" stroke="#e82e38" stroke-width="0.75"/>
<circle cx="718" cy="242.4" r="1.38" fill="none" stroke="#e82e38" stroke-width="0.75"/>
<text transform="translate(6.6,200.25) rotate(-90)" text-anchor="middle" font-size="5.52" font-weight="bold" fill="#111" stroke="#111" stroke-width="0.22">CLUSTERING COEFFICIENT</text>
<text transform="translate(282.65,201.2) rotate(-90)" text-anchor="middle" font-size="5.58" font-weight="bold" fill="#111" stroke="#111" stroke-width="0.22">CHARACTERISTIC PATH LENGTH</text>
<text transform="translate(477.65,199.9) rotate(-90)" text-anchor="middle" font-size="5.55" font-weight="bold" fill="#111" stroke="#111" stroke-width="0.22">SMALL WORLDNESS</text>
</svg>
</body></html>
